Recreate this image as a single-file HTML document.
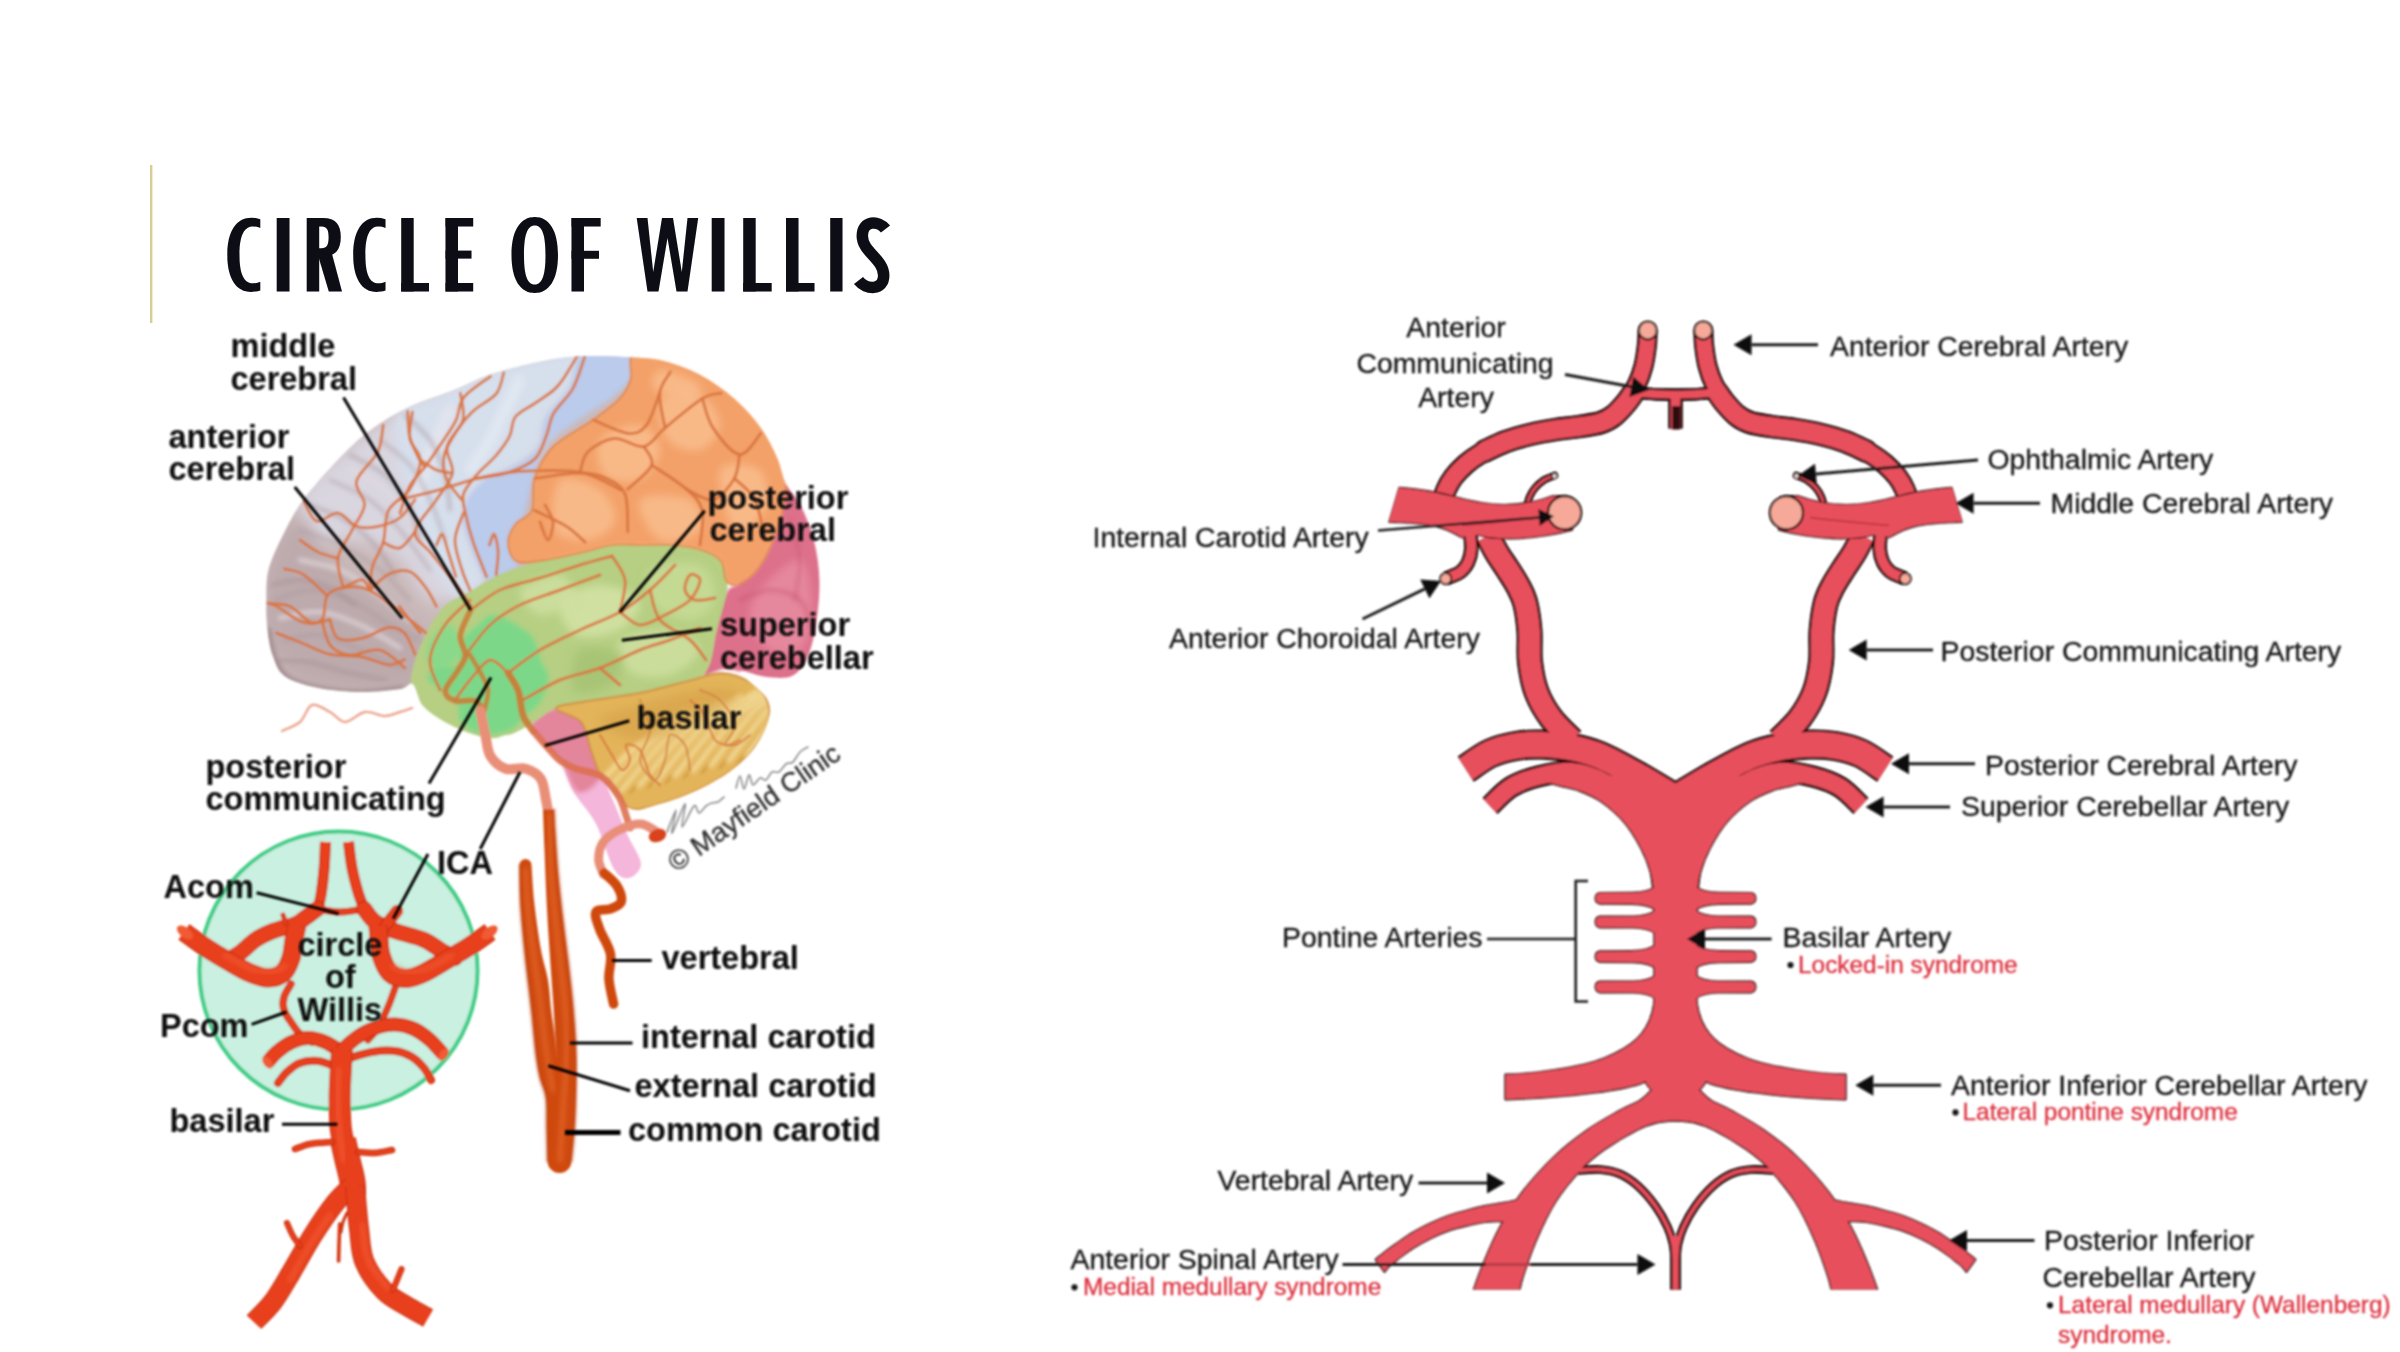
<!DOCTYPE html>
<html><head><meta charset="utf-8"><title>Circle of Willis</title>
<style>
html,body{margin:0;padding:0;background:#fff;}
body{width:2400px;height:1352px;overflow:hidden;font-family:"Liberation Sans",sans-serif;}
svg{display:block;position:absolute;left:0;top:0;}
text{font-family:"Liberation Sans",sans-serif;}
.lb{font-weight:bold;font-size:32.5px;fill:#0a0a0a;}
.rb{font-size:28.4px;fill:#161616;stroke:#161616;stroke-width:0.3px;}
.rr{font-size:24.4px;fill:#dd3340;stroke:#dd3340;stroke-width:0.35px;}
</style></head><body>
<svg width="2400" height="1352" viewBox="0 0 2400 1352">
<defs><filter id="b09" x="-2%" y="-2%" width="104%" height="104%"><feGaussianBlur stdDeviation="0.9"/></filter><filter id="b07" x="-2%" y="-5%" width="104%" height="110%"><feGaussianBlur stdDeviation="0.75"/></filter></defs>
<g id="title" filter="url(#b07)">
<rect x="150" y="165" width="2.4" height="158" fill="#d8cd92"/>
<path fill="#0b0b14" fill-rule="evenodd" d="M260.3,219.2 C240.5,213.5 227.3,226 227.3,255 C227.3,284 240.5,296.5 260.3,290.5 L260.3,281.8 C247.8,286.5 239.5,281 239.5,255 C239.5,229 247.8,223.5 260.3,228 Z"/>
<path fill="#0b0b14" fill-rule="evenodd" d="M276.7,218.0 H289.5 V291.5 H276.7 Z"/>
<path fill="#0b0b14" fill-rule="evenodd" d="M306.7,218.0 H319.2 V291.5 H306.7 Z"/>
<path fill="#0b0b14" fill-rule="evenodd" d="M318,218 L323,218 C336,218 340.8,225 340.8,237 C340.8,250 335,256.5 323,256.5 L318,256.5 Z M318,226.5 L321.5,226.5 C327,226.5 328.6,230 328.6,237 C328.6,245 327,248.2 321.5,248.2 L318,248.2 Z"/>
<path fill="#0b0b14" fill-rule="evenodd" d="M320,252 L331.5,252 L342,291.5 L328.8,291.5 L318.5,257 Z"/>
<path fill="#0b0b14" fill-rule="evenodd" d="M385.5,219.2 C366.1,213.5 353.2,226 353.2,255 C353.2,284 366.1,296.5 385.5,290.5 L385.5,281.8 C373.2,286.5 365.4,281 365.4,255 C365.4,229 373.2,223.5 385.5,228 Z"/>
<path fill="#0b0b14" fill-rule="evenodd" d="M401.2,218.0 H413.7 V291.5 H401.2 Z"/>
<path fill="#0b0b14" fill-rule="evenodd" d="M401.2,283.0 H429.0 V291.5 H401.2 Z"/>
<path fill="#0b0b14" fill-rule="evenodd" d="M445.5,218.0 H458.0 V291.5 H445.5 Z"/>
<path fill="#0b0b14" fill-rule="evenodd" d="M445.5,218.0 H473.2 V226.5 H445.5 Z"/>
<path fill="#0b0b14" fill-rule="evenodd" d="M445.5,250.6 H471.5 V258.6 H445.5 Z"/>
<path fill="#0b0b14" fill-rule="evenodd" d="M445.5,283.0 H473.2 V291.5 H445.5 Z"/>
<path fill="#0b0b14" fill-rule="evenodd" d="M534.8,217 C549,217 558,230 558,255 C558,280 549,293 534.8,293 C520.5,293 511.5,280 511.5,255 C511.5,230 520.5,217 534.8,217 Z M534.8,225.5 C527,225.5 524,236 524,255 C524,274 527,284.5 534.8,284.5 C542.5,284.5 545.5,274 545.5,255 C545.5,236 542.5,225.5 534.8,225.5 Z"/>
<path fill="#0b0b14" fill-rule="evenodd" d="M571.5,218.0 H584.0 V291.5 H571.5 Z"/>
<path fill="#0b0b14" fill-rule="evenodd" d="M571.5,218.0 H600.7 V226.5 H571.5 Z"/>
<path fill="#0b0b14" fill-rule="evenodd" d="M571.5,250.8 H599.0 V258.8 H571.5 Z"/>
<path fill="#0b0b14" fill-rule="evenodd" d="M636.7,218 L647.5,218 L653.2,272 L662,218 L673,218 L681.8,272 L687.5,218 L698.2,218 L687.5,291.5 L676.5,291.5 L667.5,238 L658.5,291.5 L647.5,291.5 Z"/>
<path fill="#0b0b14" fill-rule="evenodd" d="M711.7,218.0 H724.5 V291.5 H711.7 Z"/>
<path fill="#0b0b14" fill-rule="evenodd" d="M743.2,218.0 H755.7 V291.5 H743.2 Z"/>
<path fill="#0b0b14" fill-rule="evenodd" d="M743.2,283.0 H771.7 V291.5 H743.2 Z"/>
<path fill="#0b0b14" fill-rule="evenodd" d="M786.0,218.0 H798.5 V291.5 H786.0 Z"/>
<path fill="#0b0b14" fill-rule="evenodd" d="M786.0,283.0 H814.5 V291.5 H786.0 Z"/>
<path fill="#0b0b14" fill-rule="evenodd" d="M830.2,218.0 H842.5 V291.5 H830.2 Z"/>
<path fill="none" stroke="#0b0b14" stroke-width="11.5" d="M885.5,229 C879,220.5 862.3,219.5 862.3,236 C862.3,252 883.7,259 883.7,275.5 C883.7,291 866,290 858.5,280.5"/>
</g>
<g id="left">
<defs>
<filter id="b1" x="-5%" y="-5%" width="110%" height="110%"><feGaussianBlur stdDeviation="1.1"/></filter>
<filter id="b05" x="-5%" y="-20%" width="110%" height="140%"><feGaussianBlur stdDeviation="0.7"/></filter>
<filter id="b2" x="-10%" y="-10%" width="120%" height="120%"><feGaussianBlur stdDeviation="2.2"/></filter>
<filter id="b4" x="-20%" y="-20%" width="140%" height="140%"><feGaussianBlur stdDeviation="4"/></filter>
<filter id="b8" x="-30%" y="-30%" width="160%" height="160%"><feGaussianBlur stdDeviation="8"/></filter>
<radialGradient id="gArt" cx="0.5" cy="0.5" r="0.5"><stop offset="0" stop-color="#f0522c"/><stop offset="1" stop-color="#e03a18"/></radialGradient>
</defs>
<clipPath id="brainClip"><path d="M266.3,601.0 C266.5,591.3 265.6,580.5 268.6,569.0 C271.7,557.5 278.8,543.2 284.6,531.7 C290.4,520.2 294.4,511.8 303.3,499.8 C312.2,487.8 326.8,471.4 337.9,459.8 C349.0,448.2 357.8,439.4 369.8,430.5 C381.8,421.6 396.0,413.2 409.8,406.6 C423.6,400.0 439.1,395.9 452.4,390.6 C465.7,385.3 476.8,379.0 489.7,374.6 C502.6,370.2 515.4,367.0 529.6,364.0 C543.8,361.0 557.8,357.6 575.0,356.5 C592.2,355.4 618.1,356.7 633.1,357.5 C648.1,358.3 654.0,358.4 665.1,361.3 C676.2,364.2 688.2,368.4 699.7,374.6 C711.2,380.8 724.1,389.7 734.3,398.6 C744.5,407.5 753.8,418.1 760.9,427.9 C768.0,437.6 772.7,447.8 776.9,457.1 C781.1,466.5 782.0,476.0 786.0,484.0 C790.0,492.0 796.2,495.8 800.9,505.1 C805.6,514.4 811.1,527.3 814.2,539.7 C817.3,552.1 819.1,566.3 819.5,579.6 C819.9,592.9 818.6,607.2 816.8,619.6 C815.0,632.0 812.8,644.9 808.8,654.2 C804.8,663.5 800.0,671.7 792.9,675.5 C785.8,679.3 775.0,677.6 766.2,677.0 C757.4,676.4 739.7,668.2 740.0,672.0 C740.3,675.8 763.5,691.4 768.0,700.0 C772.5,708.6 769.8,714.9 767.1,723.4 C764.4,731.9 758.7,742.7 752.0,751.1 C745.3,759.5 737.3,766.6 726.8,773.7 C716.3,780.8 701.7,788.3 689.1,793.8 C676.5,799.2 661.0,803.9 651.4,806.4 C641.8,808.9 639.9,811.6 631.3,808.9 C622.7,806.2 611.9,800.6 600.0,790.0 C588.1,779.4 574.5,754.2 560.0,745.0 C545.5,735.8 524.3,736.1 513.1,735.0 C501.9,733.9 500.1,738.8 493.0,738.5 C485.9,738.2 478.8,736.4 470.4,733.5 C462.0,730.6 450.7,725.5 442.7,720.9 C434.7,716.3 427.6,711.9 422.6,705.8 C417.7,699.6 416.8,686.8 413.0,684.0 C409.2,681.2 408.7,687.7 400.0,689.0 C391.3,690.3 374.4,692.2 360.8,692.0 C347.2,691.8 331.2,690.6 318.6,688.0 C306.0,685.4 292.7,682.0 285.0,676.5 C277.3,671.0 275.5,663.2 272.5,655.0 C269.5,646.8 268.2,636.0 267.2,627.0 C266.2,618.0 266.1,610.7 266.3,601.0Z"/></clipPath>
<g filter="url(#b1)">
<path d="M533.0,722.0 C535.7,716.5 546.5,709.2 556.0,708.0 C565.5,706.8 582.7,708.0 590.0,715.0 C597.3,722.0 597.5,739.2 600.0,750.0 C602.5,760.8 602.5,770.8 605.0,780.0 C607.5,789.2 611.2,795.7 615.0,805.0 C618.8,814.3 623.7,826.2 628.0,836.0 C632.3,845.8 640.8,857.0 641.0,864.0 C641.2,871.0 633.5,877.2 629.0,878.0 C624.5,878.8 619.5,878.0 614.0,869.0 C608.5,860.0 602.8,837.0 596.0,824.0 C589.2,811.0 579.0,801.5 573.0,791.0 C567.0,780.5 565.5,769.3 560.0,761.0 C554.5,752.7 544.5,747.5 540.0,741.0 C535.5,734.5 530.3,727.5 533.0,722.0Z" fill="#f4b6da" />
<path d="M533.0,722.0 C535.5,716.5 546.5,709.2 556.0,708.0 C565.5,706.8 583.0,708.0 590.0,715.0 C597.0,722.0 596.3,739.5 598.0,750.0 C599.7,760.5 603.3,771.0 600.0,778.0 C596.7,785.0 584.5,794.8 578.0,792.0 C571.5,789.2 567.1,769.6 560.9,761.1 C554.7,752.6 545.4,747.5 540.8,741.0 C536.1,734.5 530.5,727.5 533.0,722.0Z" fill="#e3859b" filter="url(#b2)"/>
<g clip-path="url(#brainClip)">
<path d="M266.3,601.0 C266.5,591.3 265.6,580.5 268.6,569.0 C271.7,557.5 278.8,543.2 284.6,531.7 C290.4,520.2 294.4,511.8 303.3,499.8 C312.2,487.8 326.8,471.4 337.9,459.8 C349.0,448.2 357.8,439.4 369.8,430.5 C381.8,421.6 396.0,413.2 409.8,406.6 C423.6,400.0 439.1,395.9 452.4,390.6 C465.7,385.3 476.8,379.0 489.7,374.6 C502.6,370.2 515.4,367.0 529.6,364.0 C543.8,361.0 555.8,357.8 575.0,356.5 C594.2,355.2 633.3,348.8 645.0,356.0 C656.7,363.2 657.5,384.3 645.0,400.0 C632.5,415.7 586.7,423.3 570.0,450.0 C553.3,476.7 555.8,537.5 545.0,560.0 C534.2,582.5 517.2,577.5 505.0,585.0 C492.8,592.5 482.0,598.3 472.0,605.0 C462.0,611.7 452.3,616.7 445.0,625.0 C437.7,633.3 432.2,643.8 428.0,655.0 C423.8,666.2 424.7,686.3 420.0,692.0 C415.3,697.7 409.9,689.0 400.0,689.0 C390.1,689.0 374.4,692.2 360.8,692.0 C347.2,691.8 331.2,690.6 318.6,688.0 C306.0,685.4 292.7,682.0 285.0,676.5 C277.3,671.0 275.5,663.2 272.5,655.0 C269.5,646.8 268.2,636.0 267.2,627.0 C266.2,618.0 266.1,610.7 266.3,601.0Z" fill="#cab9ba" />
<path d="M300.0,500.0 C303.3,485.8 321.7,470.8 340.0,455.0 C358.3,439.2 385.0,418.8 410.0,405.0 C435.0,391.2 465.0,380.3 490.0,372.0 C515.0,363.7 541.7,357.0 560.0,355.0 C578.3,353.0 600.0,349.2 600.0,360.0 C600.0,370.8 573.3,401.7 560.0,420.0 C546.7,438.3 533.3,453.3 520.0,470.0 C506.7,486.7 488.3,500.0 480.0,520.0 C471.7,540.0 478.3,576.7 470.0,590.0 C461.7,603.3 441.7,605.0 430.0,600.0 C418.3,595.0 411.7,570.0 400.0,560.0 C388.3,550.0 373.3,543.3 360.0,540.0 C346.7,536.7 330.0,546.7 320.0,540.0 C310.0,533.3 296.7,514.2 300.0,500.0Z" fill="#d9d6e0" filter="url(#b8)"/>
<path d="M262.0,600.0 C263.2,584.2 268.7,558.3 275.0,545.0 C281.3,531.7 290.8,517.5 300.0,520.0 C309.2,522.5 316.7,546.7 330.0,560.0 C343.3,573.3 363.3,586.7 380.0,600.0 C396.7,613.3 423.3,625.0 430.0,640.0 C436.7,655.0 435.0,681.7 420.0,690.0 C405.0,698.3 361.7,692.5 340.0,690.0 C318.3,687.5 302.0,683.3 290.0,675.0 C278.0,666.7 272.7,652.5 268.0,640.0 C263.3,627.5 260.8,615.8 262.0,600.0Z" fill="#b9a6a8" filter="url(#b8)" opacity="0.75"/>
<path d="M400.0,412.0 C409.0,401.2 437.1,396.7 452.0,390.0 C466.9,383.3 476.8,376.8 489.7,372.0 C502.6,367.2 514.1,364.2 529.6,361.0 C545.1,357.8 576.4,348.5 583.0,353.0 C589.6,357.5 575.3,377.5 569.2,388.1 C563.1,398.8 551.3,407.0 546.2,416.9 C541.1,426.8 543.6,439.7 538.5,447.7 C533.4,455.7 524.1,459.9 515.4,465.0 C506.7,470.1 494.5,472.7 486.5,478.5 C478.5,484.3 471.1,492.2 467.3,499.6 C463.5,507.0 462.5,514.1 463.5,522.7 C464.5,531.4 469.3,542.0 473.1,551.5 C476.9,561.0 488.7,572.2 486.5,580.0 C484.3,587.8 467.8,598.8 460.0,598.0 C452.2,597.2 445.8,584.7 440.0,575.0 C434.2,565.3 430.0,552.5 425.0,540.0 C420.0,527.5 414.5,514.2 410.0,500.0 C405.5,485.8 399.7,469.7 398.0,455.0 C396.3,440.3 391.0,422.8 400.0,412.0Z" fill="#d6dfec" filter="url(#b4)"/>
<path d="M582.7,353.0 C593.4,347.3 625.5,349.8 633.5,354.0 C641.5,358.2 634.5,371.2 630.8,378.5 C627.1,385.8 619.5,391.3 611.5,397.7 C603.5,404.1 591.4,411.1 582.7,416.9 C574.1,422.7 566.0,427.2 559.6,432.3 C553.2,437.4 548.4,441.3 544.2,447.7 C540.0,454.1 537.5,461.5 534.6,470.8 C531.7,480.1 528.8,495.8 526.9,503.5 C525.0,511.2 525.7,512.4 523.1,516.9 C520.5,521.4 513.8,525.3 511.5,530.4 C509.2,535.5 508.3,542.3 509.6,547.7 C510.9,553.1 520.8,558.3 519.2,563.0 C517.6,567.7 505.4,573.2 500.0,576.0 C494.6,578.8 491.0,584.1 486.5,580.0 C482.0,575.9 476.9,561.0 473.1,551.5 C469.3,542.0 464.5,531.4 463.5,522.7 C462.5,514.1 463.5,507.0 467.3,499.6 C471.1,492.2 478.5,484.3 486.5,478.5 C494.5,472.7 506.7,470.1 515.4,465.0 C524.1,459.9 533.4,455.7 538.5,447.7 C543.6,439.7 541.1,426.8 546.2,416.9 C551.3,407.0 563.1,398.8 569.2,388.1 C575.3,377.5 572.0,358.7 582.7,353.0Z" fill="#bacbec" filter="url(#b2)"/>
<path d="M520.0,380.0 C517.5,385.0 510.0,400.0 505.0,410.0 C500.0,420.0 495.8,430.0 490.0,440.0 C484.2,450.0 473.3,465.0 470.0,470.0" fill="none" stroke="#e6ecf5" stroke-width="10.0" stroke-linecap="round" stroke-linejoin="round" filter="url(#b4)" opacity="0.8"/>
<path d="M450.0,410.0 C447.0,416.7 437.3,435.8 432.0,450.0 C426.7,464.2 420.3,487.5 418.0,495.0" fill="none" stroke="#e6e6ee" stroke-width="12.0" stroke-linecap="round" stroke-linejoin="round" filter="url(#b4)" opacity="0.8"/>
<path d="M633.1,354.0 C638.9,350.4 654.0,355.0 665.1,358.0 C676.2,361.0 688.2,365.7 699.7,372.0 C711.2,378.3 723.9,386.8 734.3,396.0 C744.7,405.2 754.5,416.8 762.0,427.0 C769.5,437.2 774.8,447.6 779.0,457.1 C783.2,466.6 786.5,474.5 787.0,483.8 C787.5,493.1 784.8,502.5 782.0,513.1 C779.2,523.8 774.4,538.0 770.0,547.7 C765.6,557.5 760.7,565.6 755.6,571.6 C750.5,577.6 744.5,582.4 739.6,584.0 C734.7,585.6 729.4,584.8 726.3,581.0 C723.2,577.2 725.0,566.1 721.0,561.0 C717.0,555.9 710.3,553.0 702.3,550.3 C694.3,547.6 683.6,545.9 673.0,545.0 C662.4,544.1 648.6,545.0 638.4,545.0 C628.2,545.0 621.5,543.7 611.8,545.0 C602.0,546.3 591.9,550.3 579.9,553.0 C567.9,555.7 550.5,559.7 539.9,561.0 C529.2,562.3 521.3,564.1 516.0,561.0 C510.7,557.9 508.0,548.5 508.0,542.3 C508.0,536.1 512.0,529.0 516.0,523.7 C520.0,518.4 528.8,518.0 531.9,510.4 C535.0,502.8 531.0,489.0 534.6,478.4 C538.2,467.8 543.4,456.2 553.2,446.5 C563.0,436.8 582.1,427.9 593.2,419.9 C604.3,411.9 613.6,405.3 619.8,398.6 C626.0,391.9 628.3,387.3 630.5,379.9 C632.7,372.5 627.3,357.6 633.1,354.0Z" fill="#f3a169" filter="url(#b1)"/>
<path d="M600.0,440.0 C605.8,431.7 630.0,423.3 640.0,425.0 C650.0,426.7 660.0,440.8 660.0,450.0 C660.0,459.2 649.2,475.8 640.0,480.0 C630.8,484.2 611.7,481.7 605.0,475.0 C598.3,468.3 594.2,448.3 600.0,440.0Z" fill="#f9be8e" filter="url(#b4)" opacity="0.85"/>
<path d="M560.0,480.0 C567.5,473.3 590.8,483.3 600.0,490.0 C609.2,496.7 616.7,511.7 615.0,520.0 C613.3,528.3 600.0,538.3 590.0,540.0 C580.0,541.7 560.0,540.0 555.0,530.0 C550.0,520.0 552.5,486.7 560.0,480.0Z" fill="#f9be8e" filter="url(#b4)" opacity="0.85"/>
<path d="M660.0,400.0 C665.3,392.5 690.0,390.8 700.0,395.0 C710.0,399.2 720.0,415.8 720.0,425.0 C720.0,434.2 708.7,447.5 700.0,450.0 C691.3,452.5 674.7,448.3 668.0,440.0 C661.3,431.7 654.7,407.5 660.0,400.0Z" fill="#f9be8e" filter="url(#b4)" opacity="0.85"/>
<path d="M640.0,500.0 C645.0,493.3 680.0,495.0 690.0,500.0 C700.0,505.0 705.0,523.3 700.0,530.0 C695.0,536.7 670.0,545.0 660.0,540.0 C650.0,535.0 635.0,506.7 640.0,500.0Z" fill="#f9be8e" filter="url(#b4)" opacity="0.85"/>
<path d="M720.0,470.0 C724.2,460.0 752.5,463.3 760.0,470.0 C767.5,476.7 769.2,500.0 765.0,510.0 C760.8,520.0 742.5,536.7 735.0,530.0 C727.5,523.3 715.8,480.0 720.0,470.0Z" fill="#f9be8e" filter="url(#b4)" opacity="0.85"/>
<path d="M660.0,370.0 C667.5,369.2 695.0,380.0 700.0,385.0 C705.0,390.0 697.5,399.2 690.0,400.0 C682.5,400.8 660.0,395.0 655.0,390.0 C650.0,385.0 652.5,370.8 660.0,370.0Z" fill="#f9be8e" filter="url(#b4)" opacity="0.85"/>
<path d="M787.0,483.8 C790.1,482.5 796.4,495.8 800.9,505.1 C805.4,514.4 810.9,527.3 814.2,539.7 C817.5,552.1 819.9,566.3 820.5,579.6 C821.1,592.9 819.6,607.2 817.8,619.6 C816.0,632.0 813.8,644.6 809.8,654.2 C805.8,663.8 801.3,673.0 794.0,677.0 C786.7,681.0 777.5,679.3 766.2,678.0 C754.9,676.7 736.9,669.7 726.3,669.0 C715.6,668.3 704.5,680.0 702.3,674.0 C700.1,668.0 709.0,646.4 713.0,632.9 C717.0,619.4 721.9,601.0 726.3,592.9 C730.7,584.8 734.7,587.5 739.6,584.0 C744.5,580.5 750.5,577.6 755.6,571.6 C760.7,565.6 765.6,557.5 770.0,547.7 C774.4,538.0 779.2,523.8 782.0,513.1 C784.8,502.5 783.9,485.1 787.0,483.8Z" fill="#dd6f8b" filter="url(#b1)"/>
<path d="M760.0,590.0 C768.3,580.0 791.3,556.7 800.0,560.0 C808.7,563.3 812.0,595.0 812.0,610.0 C812.0,625.0 807.0,643.3 800.0,650.0 C793.0,656.7 778.3,655.0 770.0,650.0 C761.7,645.0 751.7,630.0 750.0,620.0 C748.3,610.0 751.7,600.0 760.0,590.0Z" fill="#e88ea2" filter="url(#b4)" opacity="0.8"/>
<path d="M740.0,600.0 C745.0,598.3 760.0,590.0 770.0,590.0 C780.0,590.0 793.0,593.3 800.0,600.0 C807.0,606.7 810.0,625.0 812.0,630.0" fill="none" stroke="#c85672" stroke-width="2.5" stroke-linecap="round" stroke-linejoin="round" filter="url(#b2)" opacity="0.7"/>
<path d="M790.0,520.0 C791.7,526.7 799.2,546.7 800.0,560.0 C800.8,573.3 795.8,593.3 795.0,600.0" fill="none" stroke="#c85672" stroke-width="2.5" stroke-linecap="round" stroke-linejoin="round" filter="url(#b2)" opacity="0.6"/>
<path d="M411.0,686.0 C409.8,678.5 412.3,669.9 415.1,660.6 C417.9,651.3 422.7,639.6 427.7,630.4 C432.7,621.2 438.4,611.7 445.3,605.3 C452.2,598.9 459.8,597.2 468.9,592.0 C478.0,586.8 488.2,579.5 500.0,574.3 C511.8,569.1 526.6,564.5 539.9,561.0 C553.2,557.5 567.9,555.7 579.9,553.0 C591.9,550.3 602.0,546.3 611.8,545.0 C621.5,543.7 628.2,545.0 638.4,545.0 C648.6,545.0 662.4,544.1 673.0,545.0 C683.6,545.9 694.3,547.6 702.3,550.3 C710.3,553.0 716.9,555.9 721.0,561.0 C725.1,566.1 726.1,575.3 727.0,581.0 C727.9,586.7 728.0,586.8 726.3,595.0 C724.6,603.2 719.6,618.6 716.8,630.4 C713.9,642.2 713.0,657.3 709.2,665.6 C705.4,673.9 705.7,675.4 694.0,680.0 C682.3,684.6 656.4,689.7 638.8,693.2 C621.2,696.7 602.4,698.3 588.6,700.8 C574.8,703.3 564.7,704.9 555.9,708.3 C547.1,711.6 542.9,716.7 535.8,720.9 C528.7,725.1 520.2,730.6 513.1,733.5 C506.0,736.4 500.1,738.5 493.0,738.5 C485.9,738.5 478.8,736.4 470.4,733.5 C462.0,730.6 450.7,725.5 442.7,720.9 C434.7,716.3 427.9,711.6 422.6,705.8 C417.3,700.0 412.2,693.5 411.0,686.0Z" fill="#b6cf83" />
<path d="M560.0,600.0 C564.2,591.7 586.7,585.0 600.0,585.0 C613.3,585.0 636.7,592.5 640.0,600.0 C643.3,607.5 630.8,624.2 620.0,630.0 C609.2,635.8 585.0,640.0 575.0,635.0 C565.0,630.0 555.8,608.3 560.0,600.0Z" fill="#d4e3a6" filter="url(#b4)" opacity="0.85"/>
<path d="M620.0,640.0 C626.7,633.0 656.7,628.3 670.0,630.0 C683.3,631.7 700.0,642.5 700.0,650.0 C700.0,657.5 681.7,671.3 670.0,675.0 C658.3,678.7 638.3,677.8 630.0,672.0 C621.7,666.2 613.3,647.0 620.0,640.0Z" fill="#cfe0a0" filter="url(#b4)" opacity="0.85"/>
<path d="M650.0,570.0 C657.5,563.3 689.2,560.0 700.0,565.0 C710.8,570.0 716.7,590.8 715.0,600.0 C713.3,609.2 700.0,619.2 690.0,620.0 C680.0,620.8 661.7,613.3 655.0,605.0 C648.3,596.7 642.5,576.7 650.0,570.0Z" fill="#c7db96" filter="url(#b4)" opacity="0.85"/>
<path d="M520.0,590.0 C523.3,583.3 550.8,573.3 560.0,575.0 C569.2,576.7 578.3,593.3 575.0,600.0 C571.7,606.7 549.2,616.7 540.0,615.0 C530.8,613.3 516.7,596.7 520.0,590.0Z" fill="#cfe0a0" filter="url(#b4)" opacity="0.85"/>
<path d="M580.0,650.0 C587.5,644.2 615.0,649.2 620.0,655.0 C625.0,660.8 617.5,679.2 610.0,685.0 C602.5,690.8 580.0,695.8 575.0,690.0 C570.0,684.2 572.5,655.8 580.0,650.0Z" fill="#a6c273" filter="url(#b4)" opacity="0.85"/>
<path d="M460.3,643.0 C463.7,636.2 472.1,629.6 478.0,625.0 C483.9,620.4 486.7,613.6 495.5,615.3 C504.3,617.0 523.2,627.8 530.7,635.4 C538.2,643.0 537.9,653.5 540.8,660.6 C543.7,667.7 548.3,671.5 548.3,678.2 C548.3,684.9 544.6,694.5 540.8,700.8 C537.0,707.1 531.2,710.9 525.7,715.9 C520.2,720.9 515.6,728.1 508.1,731.0 C500.6,733.9 488.5,735.2 480.5,733.5 C472.5,731.8 464.1,726.4 460.3,720.9 C456.5,715.4 460.7,705.8 457.8,700.8 C454.9,695.8 447.7,694.5 442.7,690.7 C437.7,686.9 428.5,682.4 427.7,678.2 C426.9,674.0 432.7,667.7 437.7,665.6 C442.7,663.5 454.0,669.4 457.8,665.6 C461.6,661.8 456.9,649.8 460.3,643.0Z" fill="#7bd888" filter="url(#b2)"/>
<path d="M430.0,640.0 C433.7,633.8 444.7,623.3 450.0,625.0 C455.3,626.7 462.8,642.8 462.0,650.0 C461.2,657.2 450.7,666.0 445.0,668.0 C439.3,670.0 430.5,666.7 428.0,662.0 C425.5,657.3 426.3,646.2 430.0,640.0Z" fill="#86da8c" filter="url(#b2)" opacity="0.9"/>
<path d="M555.9,708.3 C557.2,704.8 574.8,703.3 588.6,700.8 C602.4,698.3 622.0,696.6 638.8,693.2 C655.5,689.9 675.3,684.1 689.1,680.7 C702.9,677.4 711.3,672.7 721.8,673.1 C732.3,673.5 744.5,678.6 752.0,683.2 C759.5,687.8 764.4,694.1 767.1,700.8 C769.8,707.5 770.5,715.0 768.0,723.4 C765.5,731.8 758.9,742.7 752.0,751.1 C745.1,759.5 737.3,766.6 726.8,773.7 C716.3,780.8 701.7,788.3 689.1,793.8 C676.5,799.2 661.0,803.9 651.4,806.4 C641.8,808.9 636.8,810.6 631.3,808.9 C625.8,807.2 623.7,801.8 618.7,796.3 C613.7,790.8 605.7,783.7 601.1,776.2 C596.5,768.7 594.5,760.1 591.1,751.1 C587.8,742.1 586.9,729.1 581.0,722.0 C575.1,714.9 554.6,711.8 555.9,708.3Z" fill="#e3b45a" />
<clipPath id="cbClip"><path d="M555.9,708.3 C557.2,704.8 574.8,703.3 588.6,700.8 C602.4,698.3 622.0,696.6 638.8,693.2 C655.5,689.9 675.3,684.1 689.1,680.7 C702.9,677.4 711.3,672.7 721.8,673.1 C732.3,673.5 744.5,678.6 752.0,683.2 C759.5,687.8 764.4,694.1 767.1,700.8 C769.8,707.5 770.5,715.0 768.0,723.4 C765.5,731.8 758.9,742.7 752.0,751.1 C745.1,759.5 737.3,766.6 726.8,773.7 C716.3,780.8 701.7,788.3 689.1,793.8 C676.5,799.2 661.0,803.9 651.4,806.4 C641.8,808.9 636.8,810.6 631.3,808.9 C625.8,807.2 623.7,801.8 618.7,796.3 C613.7,790.8 605.7,783.7 601.1,776.2 C596.5,768.7 594.5,760.1 591.1,751.1 C587.8,742.1 586.9,729.1 581.0,722.0 C575.1,714.9 554.6,711.8 555.9,708.3Z"/></clipPath><g clip-path="url(#cbClip)">
<path d="M585.0,800.0 C592.5,792.0 613.3,766.7 630.0,752.0 C646.7,737.3 675.8,718.7 685.0,712.0" fill="none" stroke="#f3da96" stroke-width="6.0" stroke-linecap="round" stroke-linejoin="round" filter="url(#b2)" opacity="0.95"/>
<path d="M594.0,803.0 C601.5,795.0 622.3,769.7 639.0,755.0 C655.7,740.3 684.8,721.7 694.0,715.0" fill="none" stroke="#c48a34" stroke-width="1.8" stroke-linecap="round" stroke-linejoin="round" filter="url(#b1)" opacity="0.7"/>
<path d="M603.0,795.0 C610.5,786.8 631.3,760.7 648.0,746.0 C664.7,731.3 693.8,713.5 703.0,707.0" fill="none" stroke="#f3da96" stroke-width="6.0" stroke-linecap="round" stroke-linejoin="round" filter="url(#b2)" opacity="0.95"/>
<path d="M612.0,798.0 C619.5,789.8 640.3,763.7 657.0,749.0 C673.7,734.3 702.8,716.5 712.0,710.0" fill="none" stroke="#c48a34" stroke-width="1.8" stroke-linecap="round" stroke-linejoin="round" filter="url(#b1)" opacity="0.7"/>
<path d="M621.0,790.0 C628.5,781.7 649.3,754.7 666.0,740.0 C682.7,725.3 711.8,708.3 721.0,702.0" fill="none" stroke="#f3da96" stroke-width="6.0" stroke-linecap="round" stroke-linejoin="round" filter="url(#b2)" opacity="0.95"/>
<path d="M630.0,793.0 C637.5,784.7 658.3,757.7 675.0,743.0 C691.7,728.3 720.8,711.3 730.0,705.0" fill="none" stroke="#c48a34" stroke-width="1.8" stroke-linecap="round" stroke-linejoin="round" filter="url(#b1)" opacity="0.7"/>
<path d="M639.0,785.0 C646.5,776.5 667.3,748.7 684.0,734.0 C700.7,719.3 729.8,703.2 739.0,697.0" fill="none" stroke="#f3da96" stroke-width="6.0" stroke-linecap="round" stroke-linejoin="round" filter="url(#b2)" opacity="0.95"/>
<path d="M648.0,788.0 C655.5,779.5 676.3,751.7 693.0,737.0 C709.7,722.3 738.8,706.2 748.0,700.0" fill="none" stroke="#c48a34" stroke-width="1.8" stroke-linecap="round" stroke-linejoin="round" filter="url(#b1)" opacity="0.7"/>
<path d="M657.0,780.0 C664.5,771.3 685.3,742.7 702.0,728.0 C718.7,713.3 747.8,698.0 757.0,692.0" fill="none" stroke="#f3da96" stroke-width="6.0" stroke-linecap="round" stroke-linejoin="round" filter="url(#b2)" opacity="0.95"/>
<path d="M666.0,783.0 C673.5,774.3 694.3,745.7 711.0,731.0 C727.7,716.3 756.8,701.0 766.0,695.0" fill="none" stroke="#c48a34" stroke-width="1.8" stroke-linecap="round" stroke-linejoin="round" filter="url(#b1)" opacity="0.7"/>
<path d="M675.0,775.0 C682.5,766.2 703.3,736.7 720.0,722.0 C736.7,707.3 765.8,692.8 775.0,687.0" fill="none" stroke="#f3da96" stroke-width="6.0" stroke-linecap="round" stroke-linejoin="round" filter="url(#b2)" opacity="0.95"/>
<path d="M684.0,778.0 C691.5,769.2 712.3,739.7 729.0,725.0 C745.7,710.3 774.8,695.8 784.0,690.0" fill="none" stroke="#c48a34" stroke-width="1.8" stroke-linecap="round" stroke-linejoin="round" filter="url(#b1)" opacity="0.7"/>
<path d="M693.0,770.0 C700.5,761.0 721.3,730.7 738.0,716.0 C754.7,701.3 783.8,687.7 793.0,682.0" fill="none" stroke="#f3da96" stroke-width="6.0" stroke-linecap="round" stroke-linejoin="round" filter="url(#b2)" opacity="0.95"/>
<path d="M702.0,773.0 C709.5,764.0 730.3,733.7 747.0,719.0 C763.7,704.3 792.8,690.7 802.0,685.0" fill="none" stroke="#c48a34" stroke-width="1.8" stroke-linecap="round" stroke-linejoin="round" filter="url(#b1)" opacity="0.7"/>
<path d="M711.0,765.0 C718.5,755.8 739.3,724.7 756.0,710.0 C772.7,695.3 801.8,682.5 811.0,677.0" fill="none" stroke="#f3da96" stroke-width="6.0" stroke-linecap="round" stroke-linejoin="round" filter="url(#b2)" opacity="0.95"/>
<path d="M720.0,768.0 C727.5,758.8 748.3,727.7 765.0,713.0 C781.7,698.3 810.8,685.5 820.0,680.0" fill="none" stroke="#c48a34" stroke-width="1.8" stroke-linecap="round" stroke-linejoin="round" filter="url(#b1)" opacity="0.7"/>
<path d="M729.0,760.0 C736.5,750.7 757.3,718.7 774.0,704.0 C790.7,689.3 819.8,677.3 829.0,672.0" fill="none" stroke="#f3da96" stroke-width="6.0" stroke-linecap="round" stroke-linejoin="round" filter="url(#b2)" opacity="0.95"/>
<path d="M738.0,763.0 C745.5,753.7 766.3,721.7 783.0,707.0 C799.7,692.3 828.8,680.3 838.0,675.0" fill="none" stroke="#c48a34" stroke-width="1.8" stroke-linecap="round" stroke-linejoin="round" filter="url(#b1)" opacity="0.7"/>
<path d="M747.0,755.0 C754.5,745.5 775.3,712.7 792.0,698.0 C808.7,683.3 837.8,672.2 847.0,667.0" fill="none" stroke="#f3da96" stroke-width="6.0" stroke-linecap="round" stroke-linejoin="round" filter="url(#b2)" opacity="0.95"/>
<path d="M756.0,758.0 C763.5,748.5 784.3,715.7 801.0,701.0 C817.7,686.3 846.8,675.2 856.0,670.0" fill="none" stroke="#c48a34" stroke-width="1.8" stroke-linecap="round" stroke-linejoin="round" filter="url(#b1)" opacity="0.7"/>
<path d="M600.0,720.0 C600.0,714.2 623.3,710.0 640.0,705.0 C656.7,700.0 683.3,691.7 700.0,690.0 C716.7,688.3 740.0,690.0 740.0,695.0 C740.0,700.0 716.7,712.5 700.0,720.0 C683.3,727.5 656.7,740.0 640.0,740.0 C623.3,740.0 600.0,725.8 600.0,720.0Z" fill="#d6a048" filter="url(#b4)" opacity="0.6"/>
</g>
<path d="M555.9,708.3 C557.2,704.8 574.8,703.3 588.6,700.8 C602.4,698.3 622.0,696.6 638.8,693.2 C655.5,689.9 675.3,684.1 689.1,680.7 C702.9,677.4 711.3,672.7 721.8,673.1 C732.3,673.5 744.5,678.6 752.0,683.2 C759.5,687.8 764.4,694.1 767.1,700.8 C769.8,707.5 770.5,715.0 768.0,723.4 C765.5,731.8 758.9,742.7 752.0,751.1 C745.1,759.5 737.3,766.6 726.8,773.7 C716.3,780.8 701.7,788.3 689.1,793.8 C676.5,799.2 661.0,803.9 651.4,806.4 C641.8,808.9 636.8,810.6 631.3,808.9 C625.8,807.2 623.7,801.8 618.7,796.3 C613.7,790.8 605.7,783.7 601.1,776.2 C596.5,768.7 594.5,760.1 591.1,751.1 C587.8,742.1 586.9,729.1 581.0,722.0 C575.1,714.9 554.6,711.8 555.9,708.3Z" fill="none" stroke="#cf8c3c" stroke-width="2.2" stroke-linecap="round" stroke-linejoin="round" opacity="0.8"/>
<path d="M640.0,700.0 C641.7,705.0 650.0,720.0 650.0,730.0 C650.0,740.0 639.2,751.7 640.0,760.0 C640.8,768.3 650.8,780.0 655.0,780.0 C659.2,780.0 662.5,767.5 665.0,760.0 C667.5,752.5 666.7,737.5 670.0,735.0 C673.3,732.5 681.7,739.2 685.0,745.0 C688.3,750.8 689.2,765.8 690.0,770.0" fill="none" stroke="#d08040" stroke-width="2.0" stroke-linecap="round" stroke-linejoin="round" opacity="0.8"/>
<path d="M700.0,690.0 C703.3,691.7 714.2,694.2 720.0,700.0 C725.8,705.8 734.2,717.5 735.0,725.0 C735.8,732.5 724.2,742.5 725.0,745.0 C725.8,747.5 737.5,740.8 740.0,740.0" fill="none" stroke="#d08040" stroke-width="2.0" stroke-linecap="round" stroke-linejoin="round" opacity="0.8"/>
<path d="M600.0,735.0 C602.0,738.3 608.3,749.2 612.0,755.0 C615.7,760.8 619.0,769.2 622.0,770.0 C625.0,770.8 629.3,764.2 630.0,760.0 C630.7,755.8 624.3,746.7 626.0,745.0 C627.7,743.3 636.0,745.0 640.0,750.0 C644.0,755.0 646.7,769.2 650.0,775.0 C653.3,780.8 658.3,783.3 660.0,785.0" fill="none" stroke="#d8743c" stroke-width="2.2" stroke-linecap="round" stroke-linejoin="round" opacity="0.85"/>
<path d="M690.0,700.0 C692.5,702.5 700.8,708.3 705.0,715.0 C709.2,721.7 710.0,735.0 715.0,740.0 C720.0,745.0 729.2,745.8 735.0,745.0 C740.8,744.2 747.5,736.7 750.0,735.0" fill="none" stroke="#d8743c" stroke-width="2.0" stroke-linecap="round" stroke-linejoin="round" opacity="0.8"/>
<path d="M275.0,600.0 C280.8,598.3 297.5,590.0 310.0,590.0 C322.5,590.0 336.7,594.2 350.0,600.0 C363.3,605.8 378.3,618.3 390.0,625.0 C401.7,631.7 415.0,637.5 420.0,640.0" fill="none" stroke="#a8969c" stroke-width="3.0" stroke-linecap="round" stroke-linejoin="round" filter="url(#b2)" opacity="0.55"/>
<path d="M285.0,640.0 C290.8,639.2 307.5,633.3 320.0,635.0 C332.5,636.7 346.7,644.5 360.0,650.0 C373.3,655.5 393.3,665.0 400.0,668.0" fill="none" stroke="#a8969c" stroke-width="3.0" stroke-linecap="round" stroke-linejoin="round" filter="url(#b2)" opacity="0.55"/>
<path d="M300.0,530.0 C306.7,532.5 326.7,538.3 340.0,545.0 C353.3,551.7 368.3,560.8 380.0,570.0 C391.7,579.2 405.0,595.0 410.0,600.0" fill="none" stroke="#a8969c" stroke-width="3.0" stroke-linecap="round" stroke-linejoin="round" filter="url(#b2)" opacity="0.55"/>
<path d="M330.0,480.0 C336.7,483.3 358.3,491.7 370.0,500.0 C381.7,508.3 390.0,518.3 400.0,530.0 C410.0,541.7 425.0,563.3 430.0,570.0" fill="none" stroke="#a8969c" stroke-width="3.0" stroke-linecap="round" stroke-linejoin="round" filter="url(#b2)" opacity="0.55"/>
<path d="M380.0,440.0 C385.0,444.2 401.7,455.0 410.0,465.0 C418.3,475.0 424.2,487.5 430.0,500.0 C435.8,512.5 442.5,533.3 445.0,540.0" fill="none" stroke="#a8969c" stroke-width="3.0" stroke-linecap="round" stroke-linejoin="round" filter="url(#b2)" opacity="0.55"/>
<path d="M280.0,618.0 C286.7,617.0 306.7,610.8 320.0,612.0 C333.3,613.2 346.7,619.0 360.0,625.0 C373.3,631.0 393.3,644.2 400.0,648.0" fill="none" stroke="#e2dade" stroke-width="5.0" stroke-linecap="round" stroke-linejoin="round" filter="url(#b2)" opacity="0.7"/>
<path d="M300.0,560.0 C306.7,561.7 327.5,564.7 340.0,570.0 C352.5,575.3 363.3,583.7 375.0,592.0 C386.7,600.3 404.2,615.3 410.0,620.0" fill="none" stroke="#e2dade" stroke-width="5.0" stroke-linecap="round" stroke-linejoin="round" filter="url(#b2)" opacity="0.7"/>
<path d="M350.0,470.0 C355.8,473.3 374.2,480.8 385.0,490.0 C395.8,499.2 406.7,513.3 415.0,525.0 C423.3,536.7 431.7,554.2 435.0,560.0" fill="none" stroke="#e2dade" stroke-width="5.0" stroke-linecap="round" stroke-linejoin="round" filter="url(#b2)" opacity="0.7"/>
<path d="M268.0,630.0 C269.0,634.5 270.7,649.0 274.0,657.0 C277.3,665.0 280.3,672.7 288.0,678.0 C295.7,683.3 307.7,686.5 320.0,689.0 C332.3,691.5 348.3,693.0 362.0,693.0 C375.7,693.0 395.3,689.7 402.0,689.0" fill="none" stroke="#8e7578" stroke-width="5.0" stroke-linecap="round" stroke-linejoin="round" filter="url(#b2)" opacity="0.7"/>
<path d="M272.0,585.0 C276.7,584.2 290.3,579.5 300.0,580.0 C309.7,580.5 320.8,583.8 330.0,588.0 C339.2,592.2 350.8,602.2 355.0,605.0" fill="none" stroke="#a08c92" stroke-width="3.5" stroke-linecap="round" stroke-linejoin="round" filter="url(#b2)" opacity="0.5"/>
<path d="M278.0,660.0 C283.3,660.3 298.8,660.0 310.0,662.0 C321.2,664.0 332.5,669.0 345.0,672.0 C357.5,675.0 378.3,678.7 385.0,680.0" fill="none" stroke="#a08c92" stroke-width="3.5" stroke-linecap="round" stroke-linejoin="round" filter="url(#b2)" opacity="0.5"/>
<path d="M310.0,505.0 C315.8,507.5 334.2,513.3 345.0,520.0 C355.8,526.7 366.7,535.8 375.0,545.0 C383.3,554.2 391.7,570.0 395.0,575.0" fill="none" stroke="#a08c92" stroke-width="3.5" stroke-linecap="round" stroke-linejoin="round" filter="url(#b2)" opacity="0.5"/>
<path d="M350.0,455.0 C355.8,458.3 375.3,466.7 385.0,475.0 C394.7,483.3 402.2,494.2 408.0,505.0 C413.8,515.8 418.0,534.2 420.0,540.0" fill="none" stroke="#a08c92" stroke-width="3.5" stroke-linecap="round" stroke-linejoin="round" filter="url(#b2)" opacity="0.5"/>
<path d="M405.0,415.0 C409.2,419.2 423.3,430.0 430.0,440.0 C436.7,450.0 441.7,463.3 445.0,475.0 C448.3,486.7 449.2,504.2 450.0,510.0" fill="none" stroke="#a08c92" stroke-width="3.5" stroke-linecap="round" stroke-linejoin="round" filter="url(#b2)" opacity="0.5"/>
<path d="M268.6,603.6 C272.2,604.0 282.9,603.2 290.0,606.3 C297.1,609.4 304.7,620.1 311.3,622.3 C317.9,624.5 326.8,620.0 329.9,619.6" fill="none" stroke="#d9743f" stroke-width="3.0" stroke-linecap="round" stroke-linejoin="round" opacity="0.9"/>
<path d="M276.6,633.0 C281.1,634.8 294.4,640.1 303.3,643.6 C312.2,647.1 320.1,652.0 329.9,654.2 C339.7,656.4 352.1,655.1 361.9,656.9 C371.7,658.7 381.4,664.4 388.5,664.9 C395.6,665.4 401.8,660.5 404.5,659.6" fill="none" stroke="#d9743f" stroke-width="3.0" stroke-linecap="round" stroke-linejoin="round" opacity="0.9"/>
<path d="M329.9,619.6 C331.2,622.7 332.6,635.2 337.9,638.3 C343.2,641.4 353.5,640.1 361.9,638.3 C370.3,636.5 381.4,628.5 388.5,627.6 C395.6,626.7 400.1,628.6 404.5,633.0 C408.9,637.4 413.3,650.7 415.1,654.2" fill="none" stroke="#d9743f" stroke-width="3.0" stroke-linecap="round" stroke-linejoin="round" opacity="0.9"/>
<path d="M369.8,590.3 C372.9,587.6 381.8,577.5 388.5,574.4 C395.2,571.3 403.6,569.5 409.8,571.7 C416.0,573.9 421.4,581.9 425.8,587.7 C430.2,593.5 434.6,603.2 436.4,606.3" fill="none" stroke="#d9743f" stroke-width="3.0" stroke-linecap="round" stroke-linejoin="round" opacity="0.9"/>
<path d="M343.2,587.7 C346.3,586.4 357.5,579.3 361.9,579.7 C366.3,580.1 368.5,588.5 369.8,590.3" fill="none" stroke="#d9743f" stroke-width="3.0" stroke-linecap="round" stroke-linejoin="round" opacity="0.9"/>
<path d="M399.1,606.3 C400.9,608.5 406.2,615.2 409.8,619.6 C413.4,624.0 418.6,630.7 420.4,632.9" fill="none" stroke="#d9743f" stroke-width="3.0" stroke-linecap="round" stroke-linejoin="round" opacity="0.9"/>
<path d="M300.0,540.0 C303.0,542.0 311.7,548.9 318.0,552.0 C324.3,555.1 334.6,557.3 337.9,558.4" fill="none" stroke="#d9743f" stroke-width="3.0" stroke-linecap="round" stroke-linejoin="round" opacity="0.9"/>
<path d="M383.2,542.4 C386.0,543.3 394.7,549.8 400.0,548.0 C405.3,546.2 412.6,534.4 415.1,531.7" fill="none" stroke="#d9743f" stroke-width="3.0" stroke-linecap="round" stroke-linejoin="round" opacity="0.9"/>
<path d="M420.4,459.8 C423.1,461.5 431.1,467.8 436.4,470.0 C441.7,472.2 449.7,472.7 452.4,473.2" fill="none" stroke="#d9743f" stroke-width="3.0" stroke-linecap="round" stroke-linejoin="round" opacity="0.9"/>
<path d="M578.8,353.5 C576.2,357.7 567.7,372.4 563.5,378.5 C559.3,384.6 558.6,385.8 553.8,390.0 C549.0,394.2 541.0,399.0 534.6,403.5 C528.2,408.0 519.6,411.4 515.4,416.9 C511.2,422.3 512.8,429.8 509.6,436.2 C506.4,442.6 501.6,449.0 496.2,455.4 C490.8,461.8 482.3,468.2 476.9,474.6 C471.4,481.0 465.4,487.4 463.5,493.8 C461.6,500.2 463.8,505.1 465.4,513.1 C467.0,521.1 469.6,531.3 473.1,541.9 C476.6,552.5 484.3,570.7 486.5,576.5" fill="none" stroke="#d9743f" stroke-width="3.0" stroke-linecap="round" stroke-linejoin="round" opacity="0.9"/>
<path d="M584.6,357.3 C582.7,362.4 578.2,378.8 573.1,388.1 C568.0,397.4 558.3,405.1 553.8,413.1 C549.3,421.1 549.4,428.5 546.2,436.2 C543.0,443.9 541.0,453.1 534.6,459.2 C528.2,465.3 517.3,469.5 507.7,472.7 C498.1,475.9 482.0,477.5 476.9,478.5" fill="none" stroke="#d9743f" stroke-width="3.0" stroke-linecap="round" stroke-linejoin="round" opacity="0.9"/>
<path d="M503.8,372.7 C502.5,376.2 501.3,387.4 496.2,393.8 C491.1,400.2 479.8,404.8 473.1,411.2 C466.4,417.6 460.6,424.9 455.8,432.3 C451.0,439.7 445.8,447.7 444.2,455.4 C442.6,463.1 443.3,471.1 446.2,478.5 C449.1,485.9 458.9,496.1 461.5,499.6" fill="none" stroke="#d9743f" stroke-width="3.0" stroke-linecap="round" stroke-linejoin="round" opacity="0.9"/>
<path d="M490.4,376.5 C485.9,380.0 469.3,390.3 463.5,397.7 C457.7,405.1 460.0,412.5 455.8,420.8 C451.6,429.1 443.6,440.0 438.5,447.7 C433.4,455.4 429.8,460.5 425.0,466.9 C420.2,473.3 413.8,478.5 409.6,486.2 C405.4,493.9 401.6,508.6 400.0,513.1" fill="none" stroke="#d9743f" stroke-width="3.0" stroke-linecap="round" stroke-linejoin="round" opacity="0.9"/>
<path d="M407.7,411.2 C408.0,415.4 407.7,428.2 409.6,436.2 C411.5,444.2 416.6,454.1 419.2,459.2 C421.8,464.3 424.0,465.6 425.0,466.9" fill="none" stroke="#d9743f" stroke-width="3.0" stroke-linecap="round" stroke-linejoin="round" opacity="0.9"/>
<path d="M400.0,499.6 C406.4,498.0 425.7,493.5 438.5,490.0 C451.3,486.5 465.4,481.4 476.9,478.5 C488.4,475.6 498.1,474.0 507.7,472.7 C517.3,471.4 522.1,470.8 534.6,470.8 C547.1,470.8 568.3,469.5 582.7,472.7 C597.1,475.9 614.8,487.1 621.2,490.0" fill="none" stroke="#d9743f" stroke-width="3.0" stroke-linecap="round" stroke-linejoin="round" opacity="0.9"/>
<path d="M436.5,545.0 C437.5,543.2 440.4,533.1 442.3,534.2 C444.2,535.3 445.9,544.5 448.1,551.5 C450.4,558.5 454.5,572.3 455.8,576.5" fill="none" stroke="#d9743f" stroke-width="3.0" stroke-linecap="round" stroke-linejoin="round" opacity="0.9"/>
<path d="M489.4,545.0 C490.2,543.2 492.8,533.1 494.2,534.2 C495.6,535.3 497.8,544.8 498.1,551.5 C498.4,558.2 496.5,570.8 496.2,574.6" fill="none" stroke="#d9743f" stroke-width="3.0" stroke-linecap="round" stroke-linejoin="round" opacity="0.9"/>
<path d="M463.5,513.0 C462.1,517.5 455.2,530.5 455.0,540.0 C454.8,549.5 459.5,561.7 462.0,570.0 C464.5,578.3 468.7,586.7 470.0,590.0" fill="none" stroke="#d9743f" stroke-width="3.0" stroke-linecap="round" stroke-linejoin="round" opacity="0.9"/>
<path d="M425.8,632.9 C423.1,630.7 419.1,626.7 409.8,619.6 C400.5,612.5 380.9,595.6 369.8,590.3 C358.7,585.0 350.3,586.8 343.2,587.7 C336.1,588.6 330.8,590.4 327.2,595.7 C323.6,601.0 325.9,615.2 321.9,619.6 C317.9,624.0 310.9,624.5 303.3,622.3 C295.8,620.1 282.5,609.5 276.6,606.3 C270.7,603.1 269.4,603.5 268.0,603.0" fill="none" stroke="#d9743f" stroke-width="3.0" stroke-linecap="round" stroke-linejoin="round" opacity="0.9"/>
<path d="M369.8,590.3 C370.2,586.3 370.3,574.4 372.5,566.4 C374.7,558.4 380.5,551.7 383.2,542.4 C385.9,533.1 384.1,519.3 388.5,510.4 C392.9,501.5 404.5,497.5 409.8,489.1 C415.1,480.7 420.4,468.2 420.4,459.8 C420.4,451.4 411.1,446.5 409.8,438.5 C408.5,430.5 412.1,416.3 412.5,411.9" fill="none" stroke="#d9743f" stroke-width="3.0" stroke-linecap="round" stroke-linejoin="round" opacity="0.9"/>
<path d="M343.2,587.7 C342.3,582.8 336.6,567.7 337.9,558.4 C339.2,549.1 346.8,540.6 351.2,531.7 C355.6,522.8 363.6,513.5 364.5,505.1 C365.4,496.7 354.3,490.0 356.5,481.1 C358.7,472.2 373.4,461.2 377.8,451.9 C382.2,442.6 382.3,429.6 383.2,425.2" fill="none" stroke="#d9743f" stroke-width="3.0" stroke-linecap="round" stroke-linejoin="round" opacity="0.9"/>
<path d="M471.0,606.3 C467.9,601.9 459.0,588.6 452.4,579.7 C445.8,570.8 437.3,561.0 431.1,553.0 C424.9,545.0 414.2,540.6 415.1,531.7 C416.0,522.8 430.2,509.6 436.4,499.8 C442.6,490.1 450.6,482.1 452.4,473.2 C454.2,464.3 445.3,455.4 447.1,446.5 C448.9,437.6 460.8,428.8 463.0,419.9 C465.2,411.0 460.8,397.7 460.4,393.3" fill="none" stroke="#d9743f" stroke-width="3.0" stroke-linecap="round" stroke-linejoin="round" opacity="0.9"/>
<path d="M284.6,569.0 C287.7,569.9 296.2,569.9 303.3,574.4 C310.4,578.9 323.2,592.2 327.2,595.7" fill="none" stroke="#d9743f" stroke-width="3.0" stroke-linecap="round" stroke-linejoin="round" opacity="0.9"/>
<path d="M303.3,499.8 C305.5,503.4 310.8,518.9 316.6,521.1 C322.4,523.3 331.2,512.2 337.9,513.1 C344.5,514.0 349.9,524.2 356.5,526.4 C363.1,528.6 370.7,527.7 377.8,526.4 C384.9,525.1 392.9,522.8 399.1,518.4 C405.3,514.0 412.4,502.9 415.1,499.8" fill="none" stroke="#d9743f" stroke-width="3.0" stroke-linecap="round" stroke-linejoin="round" opacity="0.9"/>
<path d="M321.9,619.6 C323.2,623.8 325.3,639.1 330.0,645.0 C334.7,650.9 341.7,654.2 350.0,655.0 C358.3,655.8 370.8,647.8 380.0,650.0 C389.2,652.2 400.8,665.0 405.0,668.0" fill="none" stroke="#d9743f" stroke-width="3.0" stroke-linecap="round" stroke-linejoin="round" opacity="0.9"/>
<path d="M534.6,478.4 C542.1,477.5 567.9,473.1 579.9,473.1 C591.9,473.1 599.0,474.8 606.5,478.4 C614.0,481.9 621.6,485.5 625.1,494.4 C628.6,503.3 627.3,525.5 627.8,531.7" fill="none" stroke="#d9743f" stroke-width="3.0" stroke-linecap="round" stroke-linejoin="round" opacity="0.9"/>
<path d="M579.9,473.1 C581.2,469.6 582.1,457.6 587.9,451.8 C593.7,446.0 605.2,439.4 614.5,438.5 C623.8,437.6 635.4,448.3 643.8,446.5 C652.2,444.7 655.4,435.9 665.1,427.9 C674.9,419.9 693.0,404.4 702.3,398.6 C711.6,392.8 717.9,394.1 721.0,393.2" fill="none" stroke="#d9743f" stroke-width="3.0" stroke-linecap="round" stroke-linejoin="round" opacity="0.9"/>
<path d="M643.8,446.5 C645.1,449.6 654.5,458.0 651.8,465.1 C649.1,472.2 631.8,485.1 627.8,489.1" fill="none" stroke="#d9743f" stroke-width="3.0" stroke-linecap="round" stroke-linejoin="round" opacity="0.9"/>
<path d="M651.8,465.1 C657.6,469.1 678.0,481.6 686.4,489.1 C694.8,496.7 700.0,501.1 702.3,510.4 C704.6,519.7 700.4,539.2 700.0,545.0" fill="none" stroke="#d9743f" stroke-width="3.0" stroke-linecap="round" stroke-linejoin="round" opacity="0.9"/>
<path d="M665.1,427.9 C664.2,422.1 658.8,402.5 659.7,393.2 C660.6,383.9 668.6,375.4 670.4,371.9" fill="none" stroke="#d9743f" stroke-width="3.0" stroke-linecap="round" stroke-linejoin="round" opacity="0.9"/>
<path d="M702.3,398.6 C704.1,403.5 706.8,418.6 713.0,427.9 C719.2,437.2 731.6,453.6 739.6,454.5 C747.6,455.4 757.4,436.8 760.9,433.2" fill="none" stroke="#d9743f" stroke-width="3.0" stroke-linecap="round" stroke-linejoin="round" opacity="0.9"/>
<path d="M739.6,454.5 C738.7,458.5 738.7,470.9 734.3,478.4 C729.9,485.9 721.0,497.9 713.0,499.7 C705.0,501.5 690.8,490.9 686.4,489.1" fill="none" stroke="#d9743f" stroke-width="3.0" stroke-linecap="round" stroke-linejoin="round" opacity="0.9"/>
<path d="M593.2,419.9 C599.0,422.1 618.9,432.3 627.8,433.2 C636.7,434.1 641.1,431.9 646.4,425.2 C651.7,418.5 657.5,398.5 659.7,393.2" fill="none" stroke="#d9743f" stroke-width="3.0" stroke-linecap="round" stroke-linejoin="round" opacity="0.9"/>
<path d="M534.6,510.4 C539.9,513.1 558.2,521.1 566.6,526.4 C575.0,531.7 582.1,539.6 585.2,542.3" fill="none" stroke="#d9743f" stroke-width="3.0" stroke-linecap="round" stroke-linejoin="round" opacity="0.9"/>
<path d="M734.3,478.4 C737.8,482.0 749.9,489.7 755.0,500.0 C760.1,510.3 763.3,533.3 765.0,540.0" fill="none" stroke="#d9743f" stroke-width="3.0" stroke-linecap="round" stroke-linejoin="round" opacity="0.9"/>
<path d="M540.0,522.0 C541.3,525.0 545.8,540.0 548.0,540.0 C550.2,540.0 553.5,527.8 553.0,522.0 C552.5,516.2 546.3,507.8 545.0,505.0" fill="none" stroke="#d9743f" stroke-width="3.0" stroke-linecap="round" stroke-linejoin="round" opacity="0.9"/>
<path d="M470.4,610.3 C475.3,606.9 488.4,595.4 500.0,590.0 C511.6,584.6 526.7,582.2 540.0,578.0 C553.3,573.8 568.0,568.7 580.0,565.0 C592.0,561.3 606.7,557.5 612.0,556.0" fill="none" stroke="#d9743f" stroke-width="3.0" stroke-linecap="round" stroke-linejoin="round" opacity="0.9"/>
<path d="M465.4,655.5 C469.5,650.4 480.9,633.4 490.0,625.0 C499.1,616.6 508.3,610.8 520.0,605.0 C531.7,599.2 546.7,595.0 560.0,590.0 C573.3,585.0 593.3,577.5 600.0,575.0" fill="none" stroke="#d9743f" stroke-width="3.0" stroke-linecap="round" stroke-linejoin="round" opacity="0.9"/>
<path d="M508.1,673.1 C513.4,669.2 528.0,657.2 540.0,650.0 C552.0,642.8 566.7,636.3 580.0,630.0 C593.3,623.7 608.3,618.7 620.0,612.0 C631.7,605.3 640.8,597.8 650.0,590.0 C659.2,582.2 670.8,569.2 675.0,565.0" fill="none" stroke="#d9743f" stroke-width="3.0" stroke-linecap="round" stroke-linejoin="round" opacity="0.9"/>
<path d="M523.0,700.0 C529.2,696.7 547.2,685.3 560.0,680.0 C572.8,674.7 586.7,673.0 600.0,668.0 C613.3,663.0 628.3,654.7 640.0,650.0 C651.7,645.3 660.0,643.7 670.0,640.0 C680.0,636.3 695.0,630.0 700.0,628.0" fill="none" stroke="#d9743f" stroke-width="3.0" stroke-linecap="round" stroke-linejoin="round" opacity="0.9"/>
<path d="M600.0,668.0 C603.3,670.8 616.7,682.2 620.0,685.0" fill="none" stroke="#d9743f" stroke-width="3.0" stroke-linecap="round" stroke-linejoin="round" opacity="0.9"/>
<path d="M620.0,612.0 C623.3,614.2 632.5,624.5 640.0,625.0 C647.5,625.5 656.7,619.2 665.0,615.0 C673.3,610.8 684.2,605.8 690.0,600.0 C695.8,594.2 700.0,584.2 700.0,580.0 C700.0,575.8 692.5,573.3 690.0,575.0 C687.5,576.7 684.2,585.8 685.0,590.0 C685.8,594.2 690.0,598.7 695.0,600.0 C700.0,601.3 711.7,598.3 715.0,598.0" fill="none" stroke="#d9743f" stroke-width="3.0" stroke-linecap="round" stroke-linejoin="round" opacity="0.9"/>
<path d="M612.0,556.0 C614.2,560.0 623.7,570.7 625.0,580.0 C626.3,589.3 620.8,606.7 620.0,612.0" fill="none" stroke="#d9743f" stroke-width="3.0" stroke-linecap="round" stroke-linejoin="round" opacity="0.9"/>
<path d="M650.0,590.0 C651.7,595.0 653.3,611.7 660.0,620.0 C666.7,628.3 682.3,633.3 690.0,640.0 C697.7,646.7 703.3,656.7 706.0,660.0" fill="none" stroke="#d9743f" stroke-width="3.0" stroke-linecap="round" stroke-linejoin="round" opacity="0.9"/>
<path d="M440.0,690.0 C438.3,685.0 429.2,670.8 430.0,660.0 C430.8,649.2 438.3,635.0 445.0,625.0 C451.7,615.0 465.8,604.2 470.0,600.0" fill="none" stroke="#d9743f" stroke-width="3.0" stroke-linecap="round" stroke-linejoin="round" opacity="0.9"/>
<path d="M455.0,700.0 C457.5,696.7 464.2,686.7 470.0,680.0 C475.8,673.3 483.7,661.2 490.0,660.0 C496.3,658.8 505.0,670.8 508.0,673.0" fill="none" stroke="#d9743f" stroke-width="3.0" stroke-linecap="round" stroke-linejoin="round" opacity="0.9"/>
<path d="M633.1,354.0 C638.9,350.4 654.0,355.0 665.1,358.0 C676.2,361.0 688.2,365.7 699.7,372.0 C711.2,378.3 723.9,386.8 734.3,396.0 C744.7,405.2 754.5,416.8 762.0,427.0 C769.5,437.2 774.8,447.6 779.0,457.1 C783.2,466.6 786.5,474.5 787.0,483.8 C787.5,493.1 784.8,502.5 782.0,513.1 C779.2,523.8 774.4,538.0 770.0,547.7 C765.6,557.5 760.7,565.6 755.6,571.6 C750.5,577.6 744.5,582.4 739.6,584.0 C734.7,585.6 729.4,584.8 726.3,581.0 C723.2,577.2 725.0,566.1 721.0,561.0 C717.0,555.9 710.3,553.0 702.3,550.3 C694.3,547.6 683.6,545.9 673.0,545.0 C662.4,544.1 648.6,545.0 638.4,545.0 C628.2,545.0 621.5,543.7 611.8,545.0 C602.0,546.3 591.9,550.3 579.9,553.0 C567.9,555.7 550.5,559.7 539.9,561.0 C529.2,562.3 521.3,564.1 516.0,561.0 C510.7,557.9 508.0,548.5 508.0,542.3 C508.0,536.1 512.0,529.0 516.0,523.7 C520.0,518.4 528.8,518.0 531.9,510.4 C535.0,502.8 531.0,489.0 534.6,478.4 C538.2,467.8 543.4,456.2 553.2,446.5 C563.0,436.8 582.1,427.9 593.2,419.9 C604.3,411.9 613.6,405.3 619.8,398.6 C626.0,391.9 628.3,387.3 630.5,379.9 C632.7,372.5 627.3,357.6 633.1,354.0Z" fill="none" stroke="#e28444" stroke-width="2.2" stroke-linecap="round" stroke-linejoin="round" opacity="0.8"/>
<path d="M483.0,710.8 C481.7,709.1 480.0,702.5 475.4,700.8 C470.8,699.1 460.3,702.5 455.3,700.8 C450.3,699.1 444.9,695.7 445.3,690.7 C445.7,685.7 454.5,676.5 457.8,670.6 C461.1,664.7 465.0,661.4 465.4,655.5 C465.8,649.6 459.5,642.9 460.3,635.4 C461.1,627.9 468.7,614.5 470.4,610.3" fill="none" stroke="#c98038" stroke-width="6.0" stroke-linecap="round" stroke-linejoin="round" opacity="0.9"/>
<path d="M484.0,712.0 C484.7,708.3 488.7,696.7 488.0,690.0 C487.3,683.3 483.0,677.8 480.0,672.0 C477.0,666.2 471.7,657.8 470.0,655.0" fill="none" stroke="#c98038" stroke-width="5.0" stroke-linecap="round" stroke-linejoin="round" opacity="0.85"/>
<path d="M508.1,673.1 C509.8,676.0 515.7,683.6 518.2,690.7 C520.7,697.8 520.7,709.2 523.2,715.9 C525.7,722.6 531.6,728.5 533.3,731.0" fill="none" stroke="#c87e3a" stroke-width="7.0" stroke-linecap="round" stroke-linejoin="round" opacity="0.95"/>
</g>
<path d="M533.3,731.0 C536.2,734.4 546.3,746.1 550.9,751.1 C555.5,756.1 556.7,758.2 560.9,761.1 C565.1,764.0 569.3,766.2 576.0,768.7 C582.7,771.2 594.0,771.6 601.1,776.2 C608.2,780.8 614.5,789.6 618.7,796.3 C622.9,803.0 624.4,811.1 626.3,816.4 C628.2,821.7 629.4,826.1 630.0,828.0" fill="none" stroke="#dd7050" stroke-width="7.0" stroke-linecap="round" stroke-linejoin="round" opacity="0.9"/>
<path d="M282.0,731.0 C285.0,729.5 295.0,726.3 300.0,722.0 C305.0,717.7 307.0,706.7 312.0,705.0 C317.0,703.3 324.5,709.2 330.0,712.0 C335.5,714.8 339.2,722.0 345.0,722.0 C350.8,722.0 358.3,713.0 365.0,712.0 C371.7,711.0 379.2,716.0 385.0,716.0 C390.8,716.0 395.5,713.3 400.0,712.0 C404.5,710.7 410.0,708.7 412.0,708.0" fill="none" stroke="#eca590" stroke-width="2.4" stroke-linecap="round" stroke-linejoin="round" />
<path d="M480.5,710.8 C481.3,715.0 483.8,728.5 485.5,736.0 C487.2,743.5 487.1,750.6 490.5,756.1 C493.9,761.6 499.7,766.6 505.6,768.7 C511.5,770.8 519.8,767.0 525.7,768.7 C531.6,770.4 537.4,773.7 540.8,778.7 C544.1,783.7 544.7,793.9 545.8,798.8 C546.9,803.7 547.2,806.5 547.5,808.0" fill="none" stroke="#e98f78" stroke-width="10.0" stroke-linecap="round" stroke-linejoin="round" stroke-linecap="butt"/>
<path d="M519.5,865.0 C519.7,871.5 519.7,889.8 520.5,904.0 C521.3,918.2 523.2,936.5 524.5,950.0 C525.8,963.5 527.3,974.8 528.5,985.0 C529.7,995.2 530.2,999.3 531.5,1011.0 C532.8,1022.7 534.6,1043.8 536.0,1055.0 C537.4,1066.2 538.3,1070.8 540.0,1078.0 C541.7,1085.2 544.9,1089.3 546.0,1098.0 C547.1,1106.7 546.5,1119.5 546.8,1130.0 C547.0,1140.5 547.4,1155.8 547.5,1161.0 A12,12 0 0 0 571.5,1161  C572.1,1154.2 574.2,1136.8 575.0,1120.0 C575.8,1103.2 576.5,1078.2 576.3,1060.0 C576.0,1041.8 574.9,1027.7 573.5,1011.0 C572.1,994.3 569.8,975.2 568.0,960.0 C566.2,944.8 564.7,934.5 563.0,920.0 C561.3,905.5 559.3,888.0 558.0,873.0 C556.7,858.0 555.7,840.6 555.0,830.0 C554.3,819.4 554.2,812.9 554.0,809.5 L543,809.5  C543.2,816.2 543.9,834.9 544.5,850.0 C545.1,865.1 545.7,883.3 546.5,900.0 C547.3,916.7 548.4,933.3 549.5,950.0 C550.6,966.7 552.0,985.0 553.0,1000.0 C554.0,1015.0 554.8,1030.2 555.5,1040.0 C556.2,1049.8 556.8,1055.8 557.0,1059.0 C556.5,1054.2 555.0,1038.0 554.0,1030.0 C553.0,1022.0 552.3,1019.3 551.3,1011.0 C550.3,1002.7 549.7,990.2 548.0,980.0 C546.3,969.8 543.3,962.7 541.0,950.0 C538.7,937.3 536.0,918.2 534.4,904.0 C532.8,889.8 532.0,871.5 531.5,865.0 A6,6 0 0 0 519.5,865 Z" fill="#cf4a10" />
<path d="M549.0,815.0 C549.3,824.7 549.7,853.0 551.0,873.0 C552.3,893.0 554.8,913.8 557.0,935.0 C559.2,956.2 562.8,980.8 564.5,1000.0 C566.2,1019.2 567.2,1031.7 567.0,1050.0 C566.8,1068.3 564.2,1091.7 563.0,1110.0 C561.8,1128.3 560.5,1151.7 560.0,1160.0" fill="none" stroke="#e4672a" stroke-width="5.0" stroke-linecap="round" stroke-linejoin="round" filter="url(#b2)" opacity="0.75"/>
<path d="M525.5,870.0 C525.8,875.7 526.2,890.7 527.5,904.0 C528.8,917.3 530.9,934.0 533.0,950.0 C535.1,966.0 537.8,983.3 540.0,1000.0 C542.2,1016.7 543.8,1035.0 546.0,1050.0 C548.2,1065.0 551.8,1083.3 553.0,1090.0" fill="none" stroke="#e4672a" stroke-width="5.0" stroke-linecap="round" stroke-linejoin="round" filter="url(#b2)" opacity="0.75"/>
<path d="M519.5,865.0 C519.7,871.5 519.7,889.8 520.5,904.0 C521.3,918.2 523.2,936.5 524.5,950.0 C525.8,963.5 527.3,974.8 528.5,985.0 C529.7,995.2 530.2,999.3 531.5,1011.0 C532.8,1022.7 534.6,1043.8 536.0,1055.0 C537.4,1066.2 538.3,1070.8 540.0,1078.0 C541.7,1085.2 544.9,1089.3 546.0,1098.0 C547.1,1106.7 546.5,1119.5 546.8,1130.0 C547.0,1140.5 547.4,1155.8 547.5,1161.0" fill="none" stroke="#b33a08" stroke-width="2.5" stroke-linecap="round" stroke-linejoin="round" filter="url(#b1)" opacity="0.6"/>
<path d="M571.5,1161.0 C572.1,1154.2 574.2,1136.8 575.0,1120.0 C575.8,1103.2 576.5,1078.2 576.3,1060.0 C576.0,1041.8 574.9,1027.7 573.5,1011.0 C572.1,994.3 569.8,975.2 568.0,960.0 C566.2,944.8 564.7,934.5 563.0,920.0 C561.3,905.5 559.3,888.0 558.0,873.0 C556.7,858.0 555.7,840.6 555.0,830.0 C554.3,819.4 554.2,812.9 554.0,809.5" fill="none" stroke="#b33a08" stroke-width="2.5" stroke-linecap="round" stroke-linejoin="round" filter="url(#b1)" opacity="0.6"/>
<path d="M660.0,834.0 C656.9,832.3 647.9,824.8 641.4,824.0 C634.9,823.2 627.5,826.1 621.2,829.0 C614.9,831.9 607.4,836.6 603.6,841.6 C599.8,846.6 598.6,853.8 598.6,859.2 C598.6,864.7 602.8,871.8 603.6,874.3" fill="none" stroke="#e98f78" stroke-width="9.0" stroke-linecap="round" stroke-linejoin="round" stroke-linecap="butt"/>
<ellipse cx="657.5" cy="835.5" rx="9" ry="6.5" fill="#d8421a" transform="rotate(-20 657.5 835.5)"/>
<path d="M604.0,873.0 C606.1,875.1 613.8,880.9 616.7,885.6 C619.6,890.3 622.3,897.3 621.3,901.2 C620.3,905.1 614.7,907.1 610.5,908.9 C606.3,910.7 597.8,908.6 596.0,912.0 C594.2,915.4 597.2,922.1 599.6,929.1 C602.0,936.1 609.0,945.7 610.5,954.0 C612.0,962.3 608.4,970.5 608.9,978.8 C609.4,987.1 612.8,999.8 613.6,1004.0" fill="none" stroke="#cf4a10" stroke-width="9.5" stroke-linecap="round" stroke-linejoin="round" />
</g>
<g filter="url(#b1)">
<path d="M667.0,832.0 C668.5,828.3 675.2,809.8 676.0,810.0 C676.8,810.2 670.5,834.0 672.0,833.0 C673.5,832.0 683.3,805.0 685.0,804.0 C686.7,803.0 680.5,826.7 682.0,827.0 C683.5,827.3 691.2,808.3 694.0,806.0 C696.8,803.7 697.0,813.0 699.0,813.0 C701.0,813.0 703.8,807.7 706.0,806.0 C708.2,804.3 710.0,803.7 712.0,803.0 C714.0,802.3 716.0,803.0 718.0,802.0 C720.0,801.0 723.0,797.8 724.0,797.0" fill="none" stroke="#7e7e7e" stroke-width="1.7" stroke-linecap="round" stroke-linejoin="round" opacity="0.85"/>
<path d="M736.0,788.0 C736.7,786.0 738.7,775.8 740.0,776.0 C741.3,776.2 742.5,789.2 744.0,789.0 C745.5,788.8 747.5,775.7 749.0,775.0 C750.5,774.3 751.2,784.5 753.0,785.0 C754.8,785.5 757.8,778.8 760.0,778.0 C762.2,777.2 764.0,781.0 766.0,780.0 C768.0,779.0 769.8,773.3 772.0,772.0 C774.2,770.7 776.7,773.3 779.0,772.0 C781.3,770.7 783.7,765.7 786.0,764.0 C788.3,762.3 790.7,764.0 793.0,762.0 C795.3,760.0 797.5,754.5 800.0,752.0 C802.5,749.5 806.7,747.8 808.0,747.0" fill="none" stroke="#7e7e7e" stroke-width="1.7" stroke-linecap="round" stroke-linejoin="round" opacity="0.85"/>
<text x="0" y="0" transform="translate(676,872.5) rotate(-34.6)" font-size="27.1" fill="#262626" stroke="#262626" stroke-width="0.35" opacity="0.95">© Mayfield Clinic</text>
</g>
<g filter="url(#b1)">
<circle cx="338.5" cy="970.5" r="139" fill="#c9f0e0" stroke="#3fcc86" stroke-width="4"/>
<path d="M325.5,842.0 C325.2,846.7 324.8,861.2 324.0,870.0 C323.2,878.8 322.0,888.7 321.0,895.0 C320.0,901.3 318.5,905.8 318.0,908.0" fill="none" stroke="#c92f10" stroke-width="11.0" stroke-linecap="butt" stroke-linejoin="round"/>
<path d="M325.5,842.0 C325.2,846.7 324.8,861.2 324.0,870.0 C323.2,878.8 322.0,888.7 321.0,895.0 C320.0,901.3 318.5,905.8 318.0,908.0" fill="none" stroke="#e8401c" stroke-width="8.6" stroke-linecap="butt" stroke-linejoin="round"/>
<path d="M348.5,842.0 C349.1,846.3 350.4,859.7 352.0,868.0 C353.6,876.3 356.0,885.2 358.0,892.0 C360.0,898.8 363.0,905.8 364.0,908.5" fill="none" stroke="#c92f10" stroke-width="11.0" stroke-linecap="butt" stroke-linejoin="round"/>
<path d="M348.5,842.0 C349.1,846.3 350.4,859.7 352.0,868.0 C353.6,876.3 356.0,885.2 358.0,892.0 C360.0,898.8 363.0,905.8 364.0,908.5" fill="none" stroke="#e8401c" stroke-width="8.6" stroke-linecap="butt" stroke-linejoin="round"/>
<path d="M318.0,909.0 C321.7,909.5 332.3,912.0 340.0,912.0 C347.7,912.0 360.0,909.5 364.0,909.0" fill="none" stroke="#c92f10" stroke-width="7.0" stroke-linecap="round" stroke-linejoin="round"/>
<path d="M318.0,909.0 C321.7,909.5 332.3,912.0 340.0,912.0 C347.7,912.0 360.0,909.5 364.0,909.0" fill="none" stroke="#e8401c" stroke-width="4.6" stroke-linecap="round" stroke-linejoin="round"/>
<path d="M317.5,908.7 C315.4,910.2 308.7,915.4 305.0,918.0 C301.3,920.6 300.6,922.1 295.3,924.3 C290.0,926.5 279.6,928.4 273.0,931.0 C266.4,933.6 260.9,936.1 255.4,939.8 C249.9,943.5 244.7,949.5 239.8,953.0 C234.9,956.5 228.3,959.7 226.0,961.0" fill="none" stroke="#c92f10" stroke-width="16.0" stroke-linecap="round" stroke-linejoin="round"/>
<path d="M317.5,908.7 C315.4,910.2 308.7,915.4 305.0,918.0 C301.3,920.6 300.6,922.1 295.3,924.3 C290.0,926.5 279.6,928.4 273.0,931.0 C266.4,933.6 260.9,936.1 255.4,939.8 C249.9,943.5 244.7,949.5 239.8,953.0 C234.9,956.5 228.3,959.7 226.0,961.0" fill="none" stroke="#e8401c" stroke-width="13.6" stroke-linecap="round" stroke-linejoin="round"/>
<path d="M364.0,908.7 C365.9,910.9 370.0,918.3 375.2,922.0 C380.4,925.7 387.0,928.0 395.1,931.0 C403.2,934.0 416.2,936.5 424.0,939.8 C431.8,943.1 436.5,947.9 441.7,950.9 C446.9,953.9 452.8,956.8 455.0,958.0" fill="none" stroke="#c92f10" stroke-width="16.0" stroke-linecap="round" stroke-linejoin="round"/>
<path d="M364.0,908.7 C365.9,910.9 370.0,918.3 375.2,922.0 C380.4,925.7 387.0,928.0 395.1,931.0 C403.2,934.0 416.2,936.5 424.0,939.8 C431.8,943.1 436.5,947.9 441.7,950.9 C446.9,953.9 452.8,956.8 455.0,958.0" fill="none" stroke="#e8401c" stroke-width="13.6" stroke-linecap="round" stroke-linejoin="round"/>
<path d="M397.0,911.0 C395.8,912.5 392.2,917.2 390.0,920.0 C387.8,922.8 385.0,926.7 384.0,928.0" fill="none" stroke="#c92f10" stroke-width="12.0" stroke-linecap="round" stroke-linejoin="round"/>
<path d="M397.0,911.0 C395.8,912.5 392.2,917.2 390.0,920.0 C387.8,922.8 385.0,926.7 384.0,928.0" fill="none" stroke="#e8401c" stroke-width="9.6" stroke-linecap="round" stroke-linejoin="round"/>
<path d="M283.0,915.0 C283.5,916.5 285.5,922.5 286.0,924.0" fill="none" stroke="#c92f10" stroke-width="5.0" stroke-linecap="round" stroke-linejoin="round"/>
<path d="M283.0,915.0 C283.5,916.5 285.5,922.5 286.0,924.0" fill="none" stroke="#e8401c" stroke-width="2.6" stroke-linecap="round" stroke-linejoin="round"/>
<path d="M184.0,932.0 C187.5,934.5 197.7,942.2 205.0,947.0 C212.3,951.8 220.5,956.7 228.0,961.0 C235.5,965.3 243.3,970.2 250.0,973.0 C256.7,975.8 262.5,978.0 268.0,978.0 C273.5,978.0 279.2,976.3 283.0,973.0 C286.8,969.7 289.2,963.5 291.0,958.0 C292.8,952.5 293.0,945.5 294.0,940.0 C295.0,934.5 296.5,927.5 297.0,925.0" fill="none" stroke="#c92f10" stroke-width="19.0" stroke-linecap="butt" stroke-linejoin="round"/>
<path d="M184.0,932.0 C187.5,934.5 197.7,942.2 205.0,947.0 C212.3,951.8 220.5,956.7 228.0,961.0 C235.5,965.3 243.3,970.2 250.0,973.0 C256.7,975.8 262.5,978.0 268.0,978.0 C273.5,978.0 279.2,976.3 283.0,973.0 C286.8,969.7 289.2,963.5 291.0,958.0 C292.8,952.5 293.0,945.5 294.0,940.0 C295.0,934.5 296.5,927.5 297.0,925.0" fill="none" stroke="#e8401c" stroke-width="16.6" stroke-linecap="butt" stroke-linejoin="round"/>
<path d="M490.0,932.0 C486.7,934.3 476.6,941.7 470.0,946.0 C463.4,950.3 458.3,953.1 450.6,957.6 C442.9,962.1 431.4,969.5 424.0,973.0 C416.6,976.5 411.9,978.5 406.2,978.5 C400.5,978.5 394.2,976.9 390.0,973.0 C385.8,969.1 382.8,960.8 381.0,955.0 C379.2,949.2 379.5,942.8 379.0,938.0 C378.5,933.2 378.2,928.0 378.0,926.0" fill="none" stroke="#c92f10" stroke-width="19.0" stroke-linecap="butt" stroke-linejoin="round"/>
<path d="M490.0,932.0 C486.7,934.3 476.6,941.7 470.0,946.0 C463.4,950.3 458.3,953.1 450.6,957.6 C442.9,962.1 431.4,969.5 424.0,973.0 C416.6,976.5 411.9,978.5 406.2,978.5 C400.5,978.5 394.2,976.9 390.0,973.0 C385.8,969.1 382.8,960.8 381.0,955.0 C379.2,949.2 379.5,942.8 379.0,938.0 C378.5,933.2 378.2,928.0 378.0,926.0" fill="none" stroke="#e8401c" stroke-width="16.6" stroke-linecap="butt" stroke-linejoin="round"/>
<ellipse cx="185" cy="932.5" rx="5" ry="9.5" fill="#f05a34" transform="rotate(-52 185 932.5)"/>
<ellipse cx="489.5" cy="932.5" rx="5" ry="9.5" fill="#f05a34" transform="rotate(52 489.5 932.5)"/>
<path d="M291.0,984.0 C289.8,986.2 285.2,992.7 284.0,997.0 C282.8,1001.3 282.8,1005.8 284.0,1010.0 C285.2,1014.2 288.3,1018.0 291.0,1022.0 C293.7,1026.0 296.5,1030.7 300.0,1034.0 C303.5,1037.3 310.0,1040.7 312.0,1042.0" fill="none" stroke="#c92f10" stroke-width="7.5" stroke-linecap="round" stroke-linejoin="round"/>
<path d="M291.0,984.0 C289.8,986.2 285.2,992.7 284.0,997.0 C282.8,1001.3 282.8,1005.8 284.0,1010.0 C285.2,1014.2 288.3,1018.0 291.0,1022.0 C293.7,1026.0 296.5,1030.7 300.0,1034.0 C303.5,1037.3 310.0,1040.7 312.0,1042.0" fill="none" stroke="#e8401c" stroke-width="5.1" stroke-linecap="round" stroke-linejoin="round"/>
<path d="M395.0,988.0 C394.2,990.3 391.8,997.3 390.0,1002.0 C388.2,1006.7 386.0,1011.7 384.0,1016.0 C382.0,1020.3 380.7,1024.0 378.0,1028.0 C375.3,1032.0 369.7,1038.0 368.0,1040.0" fill="none" stroke="#c92f10" stroke-width="7.0" stroke-linecap="round" stroke-linejoin="round"/>
<path d="M395.0,988.0 C394.2,990.3 391.8,997.3 390.0,1002.0 C388.2,1006.7 386.0,1011.7 384.0,1016.0 C382.0,1020.3 380.7,1024.0 378.0,1028.0 C375.3,1032.0 369.7,1038.0 368.0,1040.0" fill="none" stroke="#e8401c" stroke-width="4.6" stroke-linecap="round" stroke-linejoin="round"/>
<path d="M342.0,1052.0 C339.2,1050.3 330.6,1044.3 325.0,1042.0 C319.4,1039.7 314.1,1038.0 308.6,1038.0 C303.1,1038.0 297.3,1039.7 292.0,1042.0 C286.7,1044.3 281.0,1048.7 277.0,1052.0 C273.0,1055.3 269.5,1060.3 268.0,1062.0" fill="none" stroke="#c92f10" stroke-width="14.0" stroke-linecap="butt" stroke-linejoin="round"/>
<path d="M342.0,1052.0 C339.2,1050.3 330.6,1044.3 325.0,1042.0 C319.4,1039.7 314.1,1038.0 308.6,1038.0 C303.1,1038.0 297.3,1039.7 292.0,1042.0 C286.7,1044.3 281.0,1048.7 277.0,1052.0 C273.0,1055.3 269.5,1060.3 268.0,1062.0" fill="none" stroke="#e8401c" stroke-width="11.6" stroke-linecap="butt" stroke-linejoin="round"/>
<path d="M340.0,1052.0 C342.7,1049.7 350.2,1042.0 356.0,1038.0 C361.8,1034.0 368.5,1030.2 375.0,1028.0 C381.5,1025.8 388.5,1024.3 395.0,1024.5 C401.5,1024.7 408.2,1026.4 414.0,1029.0 C419.8,1031.6 425.2,1035.8 430.0,1040.0 C434.8,1044.2 440.8,1051.7 443.0,1054.0" fill="none" stroke="#c92f10" stroke-width="14.0" stroke-linecap="butt" stroke-linejoin="round"/>
<path d="M340.0,1052.0 C342.7,1049.7 350.2,1042.0 356.0,1038.0 C361.8,1034.0 368.5,1030.2 375.0,1028.0 C381.5,1025.8 388.5,1024.3 395.0,1024.5 C401.5,1024.7 408.2,1026.4 414.0,1029.0 C419.8,1031.6 425.2,1035.8 430.0,1040.0 C434.8,1044.2 440.8,1051.7 443.0,1054.0" fill="none" stroke="#e8401c" stroke-width="11.6" stroke-linecap="butt" stroke-linejoin="round"/>
<ellipse cx="267.5" cy="1062.5" rx="4" ry="7" fill="#f05a34" transform="rotate(-38 267.5 1062.5)"/>
<ellipse cx="443.5" cy="1054.5" rx="4" ry="7" fill="#f05a34" transform="rotate(38 443.5 1054.5)"/>
<path d="M334.0,1066.0 C331.3,1065.2 323.7,1061.5 318.0,1061.0 C312.3,1060.5 305.2,1061.2 300.0,1063.0 C294.8,1064.8 290.7,1068.7 287.0,1072.0 C283.3,1075.3 279.5,1081.2 278.0,1083.0" fill="none" stroke="#c92f10" stroke-width="8.0" stroke-linecap="round" stroke-linejoin="round"/>
<path d="M334.0,1066.0 C331.3,1065.2 323.7,1061.5 318.0,1061.0 C312.3,1060.5 305.2,1061.2 300.0,1063.0 C294.8,1064.8 290.7,1068.7 287.0,1072.0 C283.3,1075.3 279.5,1081.2 278.0,1083.0" fill="none" stroke="#e8401c" stroke-width="5.6" stroke-linecap="round" stroke-linejoin="round"/>
<path d="M350.0,1058.0 C353.7,1057.0 364.5,1053.2 372.0,1052.0 C379.5,1050.8 388.3,1050.2 395.0,1051.0 C401.7,1051.8 407.2,1054.2 412.0,1057.0 C416.8,1059.8 420.8,1064.2 424.0,1068.0 C427.2,1071.8 429.8,1078.0 431.0,1080.0" fill="none" stroke="#c92f10" stroke-width="8.0" stroke-linecap="round" stroke-linejoin="round"/>
<path d="M350.0,1058.0 C353.7,1057.0 364.5,1053.2 372.0,1052.0 C379.5,1050.8 388.3,1050.2 395.0,1051.0 C401.7,1051.8 407.2,1054.2 412.0,1057.0 C416.8,1059.8 420.8,1064.2 424.0,1068.0 C427.2,1071.8 429.8,1078.0 431.0,1080.0" fill="none" stroke="#e8401c" stroke-width="5.6" stroke-linecap="round" stroke-linejoin="round"/>
<path d="M342.0,1050.0 C341.8,1054.2 340.9,1066.7 340.5,1075.0 C340.1,1083.3 339.6,1091.0 339.7,1100.0 C339.8,1109.0 339.7,1119.5 340.8,1128.7 C341.9,1137.9 344.4,1146.9 346.3,1155.4 C348.2,1164.0 351.1,1173.2 352.0,1180.0 C352.9,1186.8 352.0,1193.3 352.0,1196.0" fill="none" stroke="#c92f10" stroke-width="22.0" stroke-linecap="butt" stroke-linejoin="round"/>
<path d="M342.0,1050.0 C341.8,1054.2 340.9,1066.7 340.5,1075.0 C340.1,1083.3 339.6,1091.0 339.7,1100.0 C339.8,1109.0 339.7,1119.5 340.8,1128.7 C341.9,1137.9 344.4,1146.9 346.3,1155.4 C348.2,1164.0 351.1,1173.2 352.0,1180.0 C352.9,1186.8 352.0,1193.3 352.0,1196.0" fill="none" stroke="#e8401c" stroke-width="19.6" stroke-linecap="butt" stroke-linejoin="round"/>
<path d="M343.0,1140.0 C343.8,1143.3 345.9,1153.0 347.5,1160.0 C349.1,1167.0 351.6,1175.3 352.5,1182.0 C353.4,1188.7 352.9,1197.0 353.0,1200.0" fill="none" stroke="#c92f10" stroke-width="26.0" stroke-linecap="butt" stroke-linejoin="round"/>
<path d="M343.0,1140.0 C343.8,1143.3 345.9,1153.0 347.5,1160.0 C349.1,1167.0 351.6,1175.3 352.5,1182.0 C353.4,1188.7 352.9,1197.0 353.0,1200.0" fill="none" stroke="#e8401c" stroke-width="23.6" stroke-linecap="butt" stroke-linejoin="round"/>
<path d="M295.0,1149.0 C297.5,1148.2 303.8,1145.2 310.0,1144.0 C316.2,1142.8 328.3,1142.3 332.0,1142.0" fill="none" stroke="#c92f10" stroke-width="6.5" stroke-linecap="round" stroke-linejoin="round"/>
<path d="M295.0,1149.0 C297.5,1148.2 303.8,1145.2 310.0,1144.0 C316.2,1142.8 328.3,1142.3 332.0,1142.0" fill="none" stroke="#e8401c" stroke-width="4.1" stroke-linecap="round" stroke-linejoin="round"/>
<path d="M358.0,1152.0 C360.8,1152.2 369.3,1153.3 375.0,1153.0 C380.7,1152.7 389.2,1150.5 392.0,1150.0" fill="none" stroke="#c92f10" stroke-width="6.5" stroke-linecap="round" stroke-linejoin="round"/>
<path d="M358.0,1152.0 C360.8,1152.2 369.3,1153.3 375.0,1153.0 C380.7,1152.7 389.2,1150.5 392.0,1150.0" fill="none" stroke="#e8401c" stroke-width="4.1" stroke-linecap="round" stroke-linejoin="round"/>
<path d="M352.0,1186.0 C349.3,1188.7 342.5,1193.8 336.0,1202.0 C329.5,1210.2 320.5,1223.2 313.0,1235.0 C305.5,1246.8 297.6,1261.9 290.9,1273.0 C284.2,1284.1 279.1,1293.6 273.0,1301.8 C266.9,1310.0 257.2,1318.6 254.0,1322.0" fill="none" stroke="#c92f10" stroke-width="20.0" stroke-linecap="butt" stroke-linejoin="round"/>
<path d="M352.0,1186.0 C349.3,1188.7 342.5,1193.8 336.0,1202.0 C329.5,1210.2 320.5,1223.2 313.0,1235.0 C305.5,1246.8 297.6,1261.9 290.9,1273.0 C284.2,1284.1 279.1,1293.6 273.0,1301.8 C266.9,1310.0 257.2,1318.6 254.0,1322.0" fill="none" stroke="#e8401c" stroke-width="17.6" stroke-linecap="butt" stroke-linejoin="round"/>
<path d="M355.0,1186.0 C355.7,1193.1 357.4,1215.9 359.0,1228.6 C360.6,1241.2 360.3,1251.6 364.5,1261.9 C368.7,1272.2 377.2,1283.5 384.0,1290.7 C390.8,1297.9 397.7,1300.5 405.0,1305.0 C412.3,1309.5 424.2,1315.8 428.0,1318.0" fill="none" stroke="#c92f10" stroke-width="20.0" stroke-linecap="butt" stroke-linejoin="round"/>
<path d="M355.0,1186.0 C355.7,1193.1 357.4,1215.9 359.0,1228.6 C360.6,1241.2 360.3,1251.6 364.5,1261.9 C368.7,1272.2 377.2,1283.5 384.0,1290.7 C390.8,1297.9 397.7,1300.5 405.0,1305.0 C412.3,1309.5 424.2,1315.8 428.0,1318.0" fill="none" stroke="#e8401c" stroke-width="17.6" stroke-linecap="butt" stroke-linejoin="round"/>
<path d="M287.0,1223.0 C288.0,1225.2 290.8,1232.2 293.0,1236.0 C295.2,1239.8 298.8,1244.3 300.0,1246.0" fill="none" stroke="#c92f10" stroke-width="6.0" stroke-linecap="round" stroke-linejoin="round"/>
<path d="M287.0,1223.0 C288.0,1225.2 290.8,1232.2 293.0,1236.0 C295.2,1239.8 298.8,1244.3 300.0,1246.0" fill="none" stroke="#e8401c" stroke-width="3.6" stroke-linecap="round" stroke-linejoin="round"/>
<path d="M401.5,1269.0 C400.8,1270.8 398.4,1276.5 397.0,1280.0 C395.6,1283.5 393.7,1288.3 393.0,1290.0" fill="none" stroke="#c92f10" stroke-width="6.0" stroke-linecap="round" stroke-linejoin="round"/>
<path d="M401.5,1269.0 C400.8,1270.8 398.4,1276.5 397.0,1280.0 C395.6,1283.5 393.7,1288.3 393.0,1290.0" fill="none" stroke="#e8401c" stroke-width="3.6" stroke-linecap="round" stroke-linejoin="round"/>
<path d="M339.7,1224.0 C339.6,1227.5 339.2,1238.8 339.0,1245.0 C338.8,1251.2 338.7,1258.3 338.6,1261.0" fill="none" stroke="#c92f10" stroke-width="3.6" stroke-linecap="round" stroke-linejoin="round"/>
<path d="M339.7,1224.0 C339.6,1227.5 339.2,1238.8 339.0,1245.0 C338.8,1251.2 338.7,1258.3 338.6,1261.0" fill="none" stroke="#e8401c" stroke-width="1.2" stroke-linecap="round" stroke-linejoin="round"/>
<path d="M347.0,1213.0 C346.3,1214.5 344.0,1218.8 343.0,1222.0 C342.0,1225.2 341.3,1230.3 341.0,1232.0" fill="none" stroke="#c92f10" stroke-width="3.0" stroke-linecap="round" stroke-linejoin="round"/>
<path d="M347.0,1213.0 C346.3,1214.5 344.0,1218.8 343.0,1222.0 C342.0,1225.2 341.3,1230.3 341.0,1232.0" fill="none" stroke="#e8401c" stroke-width="0.6" stroke-linecap="round" stroke-linejoin="round"/>
<path d="M225.0,955.0 C229.2,957.2 242.5,965.2 250.0,968.0 C257.5,970.8 264.2,972.3 270.0,972.0 C275.8,971.7 282.5,967.0 285.0,966.0" fill="none" stroke="#f4643c" stroke-width="5.0" stroke-linecap="round" opacity="0.55" filter="url(#b2)"/>
<path d="M452.0,955.0 C448.0,957.2 435.3,965.2 428.0,968.0 C420.7,970.8 413.8,972.3 408.0,972.0 C402.2,971.7 395.5,967.0 393.0,966.0" fill="none" stroke="#f4643c" stroke-width="5.0" stroke-linecap="round" opacity="0.55" filter="url(#b2)"/>
<path d="M338.0,1070.0 C337.8,1075.0 336.8,1090.0 337.0,1100.0 C337.2,1110.0 337.8,1120.0 339.0,1130.0 C340.2,1140.0 343.2,1155.0 344.0,1160.0" fill="none" stroke="#f4643c" stroke-width="6.0" stroke-linecap="round" opacity="0.55" filter="url(#b2)"/>
<path d="M330.0,1215.0 C326.7,1220.0 316.7,1234.2 310.0,1245.0 C303.3,1255.8 293.3,1274.2 290.0,1280.0" fill="none" stroke="#f4643c" stroke-width="5.0" stroke-linecap="round" opacity="0.55" filter="url(#b2)"/>
<path d="M362.0,1225.0 C363.0,1230.8 363.7,1249.5 368.0,1260.0 C372.3,1270.5 384.7,1283.3 388.0,1288.0" fill="none" stroke="#f4643c" stroke-width="5.0" stroke-linecap="round" opacity="0.55" filter="url(#b2)"/>
</g>
<g filter="url(#b09)">
<path d="M343.5,397.6 L470.7,610.0" stroke="#050505" stroke-width="3.0" fill="none" stroke-linecap="butt"/>
<path d="M294.7,487.0 L402.3,618.4" stroke="#050505" stroke-width="3.0" fill="none" stroke-linecap="butt"/>
<path d="M704.7,510.7 L619.8,612.0" stroke="#050505" stroke-width="3.0" fill="none" stroke-linecap="butt"/>
<path d="M712.0,628.7 L621.9,640.3" stroke="#050505" stroke-width="3.0" fill="none" stroke-linecap="butt"/>
<path d="M629.3,720.8 L544.8,745.6" stroke="#050505" stroke-width="3.0" fill="none" stroke-linecap="butt"/>
<path d="M429.0,783.4 L491.1,677.5" stroke="#050505" stroke-width="3.0" fill="none" stroke-linecap="butt"/>
<path d="M520.0,772.0 L480.2,849.0" stroke="#050505" stroke-width="3.0" fill="none" stroke-linecap="butt"/>
<path d="M428.0,854.0 L393.2,918.6" stroke="#050505" stroke-width="3.0" fill="none" stroke-linecap="butt"/>
<path d="M256.6,892.7 L338.6,913.6" stroke="#050505" stroke-width="3.0" fill="none" stroke-linecap="butt"/>
<path d="M251.6,1024.4 L286.4,1012.0" stroke="#050505" stroke-width="3.0" fill="none" stroke-linecap="butt"/>
<path d="M282.0,1124.3 L337.4,1124.3" stroke="#050505" stroke-width="3.0" fill="none" stroke-linecap="butt"/>
<path d="M612.0,960.5 L651.7,960.5" stroke="#050505" stroke-width="3.0" fill="none" stroke-linecap="butt"/>
<path d="M570.0,1043.0 L632.5,1043.0" stroke="#050505" stroke-width="3.0" fill="none" stroke-linecap="butt"/>
<path d="M548.3,1065.8 L630.0,1090.7" stroke="#050505" stroke-width="3.0" fill="none" stroke-linecap="butt"/>
<path d="M565.0,1132.6 L620.5,1132.6" stroke="#050505" stroke-width="5.0" fill="none" stroke-linecap="butt"/>
<text x="230.5" y="357.0" class="lb">middle</text>
<text x="230.5" y="390.0" class="lb">cerebral</text>
<text x="168.5" y="448.0" class="lb">anterior</text>
<text x="168.5" y="480.3" class="lb">cerebral</text>
<text x="707.5" y="508.6" class="lb">posterior</text>
<text x="709.5" y="541.0" class="lb">cerebral</text>
<text x="720.0" y="636.0" class="lb">superior</text>
<text x="720.0" y="669.3" class="lb">cerebellar</text>
<text x="636.5" y="728.7" class="lb">basilar</text>
<text x="205.5" y="778.4" class="lb">posterior</text>
<text x="205.5" y="810.0" class="lb">communicating</text>
<text x="437.0" y="873.8" class="lb">ICA</text>
<text x="163.5" y="897.7" class="lb">Acom</text>
<text x="297.5" y="955.8" class="lb">circle</text>
<text x="325.0" y="988.0" class="lb">of</text>
<text x="297.5" y="1020.5" class="lb">Willis</text>
<text x="160.0" y="1036.9" class="lb">Pcom</text>
<text x="169.5" y="1132.3" class="lb">basilar</text>
<text x="661.5" y="969.0" class="lb">vertebral</text>
<text x="641.0" y="1048.0" class="lb">internal carotid</text>
<text x="634.5" y="1097.2" class="lb">external carotid</text>
<text x="628.0" y="1140.8" class="lb">common carotid</text>
</g>
</g>
<g id="right" filter="url(#b09)">
<defs><clipPath id="clipR"><rect x="1040" y="300" width="1360" height="989.6"/></clipPath></defs>
<g clip-path="url(#clipR)">
<g><path d="M1647.6,330.8 C1647.5,333.3 1647.5,340.1 1646.8,346.0 C1646.1,351.9 1645.1,359.7 1643.5,366.0 C1641.9,372.3 1639.6,378.5 1637.0,384.0 C1634.4,389.5 1631.2,394.7 1628.0,399.0 C1624.8,403.3 1619.7,408.2 1618.0,410.0" fill="none" stroke="#120505" stroke-width="20.0" stroke-linecap="round" stroke-linejoin="round"/>
<path d="M1634.0,392.0 C1632.7,393.8 1629.3,399.1 1626.0,403.0 C1622.7,406.9 1618.2,412.2 1614.0,415.5 C1609.8,418.8 1606.7,420.7 1601.0,422.5 C1595.3,424.3 1587.5,425.3 1580.0,426.5 C1572.5,427.7 1564.3,428.2 1556.0,429.5 C1547.7,430.8 1538.3,432.5 1530.0,434.5 C1521.7,436.5 1513.5,438.8 1506.0,441.5 C1498.5,444.2 1488.5,449.4 1485.0,451.0" fill="none" stroke="#120505" stroke-width="23.4" stroke-linecap="round" stroke-linejoin="round"/>
<path d="M1512.0,439.5 C1509.3,440.6 1501.3,443.6 1496.0,446.0 C1490.7,448.4 1485.0,451.0 1480.0,454.0 C1475.0,457.0 1470.4,460.2 1466.0,464.0 C1461.6,467.8 1456.8,472.7 1453.5,477.0 C1450.2,481.3 1447.9,485.7 1446.0,490.0 C1444.1,494.3 1442.8,498.8 1442.0,503.0 C1441.2,507.2 1441.2,513.0 1441.0,515.0" fill="none" stroke="#120505" stroke-width="21.6" stroke-linecap="round" stroke-linejoin="round"/>
<path d="M1638,392.8 Q1675.5,396.6 1713,392.8" fill="none" stroke="#120505" stroke-width="12.4" stroke-linecap="butt" stroke-linejoin="round"/>
<path d="M1676,396 L1676,428.5" fill="none" stroke="#120505" stroke-width="13.5" stroke-linecap="butt" stroke-linejoin="round"/>
<path d="M1488.0,536.0 C1489.4,538.7 1493.3,546.9 1496.6,552.4 C1499.8,557.9 1503.8,563.2 1507.5,569.0 C1511.2,574.8 1515.5,581.2 1518.5,587.0 C1521.5,592.8 1523.7,596.5 1525.5,604.0 C1527.3,611.5 1528.8,622.3 1529.5,632.0 C1530.2,641.7 1528.8,652.0 1530.0,662.0 C1531.2,672.0 1533.0,682.7 1536.5,692.0 C1540.0,701.3 1545.1,710.0 1551.0,718.0 C1556.9,726.0 1568.5,736.3 1572.0,740.0" fill="none" stroke="#120505" stroke-width="26.0" stroke-linecap="butt" stroke-linejoin="round"/>
<path d="M1465.7,769.2 C1469.8,766.6 1481.6,757.4 1490.0,753.5 C1498.4,749.6 1507.3,747.5 1516.0,746.0 C1524.7,744.5 1533.0,744.2 1542.0,744.5 C1551.0,744.8 1560.3,745.6 1570.0,747.5 C1579.7,749.4 1588.3,751.1 1600.0,756.0 C1611.7,760.9 1625.0,768.5 1640.0,777.0 C1655.0,785.5 1681.7,802.0 1690.0,807.0" fill="none" stroke="#120505" stroke-width="30.0" stroke-linecap="butt" stroke-linejoin="round"/>
<path d="M1490.0,806.0 C1493.5,802.8 1503.0,791.9 1511.0,787.0 C1519.0,782.1 1527.8,779.1 1538.0,776.5 C1548.2,773.9 1561.2,770.7 1572.0,771.5 C1582.8,772.3 1593.5,775.9 1603.0,781.5 C1612.5,787.1 1621.5,795.9 1629.0,805.0 C1636.5,814.1 1642.8,825.5 1648.0,836.0 C1653.2,846.5 1657.3,857.3 1660.0,868.0 C1662.7,878.7 1663.3,894.7 1664.0,900.0" fill="none" stroke="#120505" stroke-width="22.0" stroke-linecap="butt" stroke-linejoin="round"/>
<path d="M1678,788 L1560,766 L1540.0,780.0 C1543.3,780.9 1553.7,783.8 1560.0,785.5 C1566.3,787.2 1571.1,787.4 1578.0,790.0 C1584.9,792.6 1593.4,795.8 1601.2,801.2 C1609.0,806.6 1618.1,814.6 1624.8,822.5 C1631.5,830.4 1637.1,840.2 1641.4,848.5 C1645.8,856.8 1648.7,864.5 1650.9,872.2 C1653.1,880.0 1653.9,891.2 1654.5,895.0 L1654.5,1050 L1678,1105 Z" fill="#120505" stroke="#120505" stroke-width="2.4" stroke-linejoin="round"/>
<path d="M1656,886.3 Q1650,892.7 1632,892.9 L1600,893.1 A5.3,5.3 0 0 0 1600,903.5 L1632,903.7 Q1650,903.9 1656,910.3 Z" fill="#120505" stroke="#120505" stroke-width="2.4" stroke-linejoin="round"/>
<path d="M1656,910.0 Q1650,916.4 1632,916.6 L1600,916.8 A5.3,5.3 0 0 0 1600,927.2 L1632,927.4 Q1650,927.6 1656,934.0 Z" fill="#120505" stroke="#120505" stroke-width="2.4" stroke-linejoin="round"/>
<path d="M1656,944.6 Q1650,951.0 1632,951.2 L1600,951.4 A5.3,5.3 0 0 0 1600,961.8 L1632,962.0 Q1650,962.2 1656,968.6 Z" fill="#120505" stroke="#120505" stroke-width="2.4" stroke-linejoin="round"/>
<path d="M1656,975.0 Q1650,981.4 1632,981.6 L1600,981.8 A5.3,5.3 0 0 0 1600,992.2 L1632,992.4 Q1650,992.6 1656,999.0 Z" fill="#120505" stroke="#120505" stroke-width="2.4" stroke-linejoin="round"/>
<path d="M1505.5,1074.8 C1530,1074.5 1580,1068 1604,1058.5 C1630,1048 1650,1035 1654.5,1003 L1678,1003 L1678,1100 L1652,1090 C1640,1078 1650,1080 1640,1083.5 C1625,1088.5 1580,1097 1505.5,1099.2 Z" fill="#120505" stroke="#120505" stroke-width="2.4" stroke-linejoin="round"/>
<path d="M1652.0,1090.0 C1650.0,1091.8 1645.3,1097.4 1640.0,1100.8 C1634.7,1104.2 1629.0,1105.7 1620.3,1110.6 C1611.6,1115.5 1598.6,1122.4 1587.8,1130.0 C1577.0,1137.6 1566.1,1145.7 1555.3,1156.0 C1544.5,1166.3 1531.9,1180.0 1522.7,1192.0 C1513.5,1204.0 1506.5,1215.8 1500.0,1227.7 C1493.5,1239.6 1488.0,1253.2 1483.7,1263.5 C1479.4,1273.8 1476.1,1283.5 1473.9,1289.6 C1471.7,1295.7 1471.1,1298.3 1470.5,1300.0 L1517.3,1300.0 C1517.7,1298.3 1518.6,1293.5 1519.5,1289.6 C1520.4,1285.7 1520.0,1284.7 1522.7,1276.5 C1525.4,1268.3 1530.3,1253.2 1535.7,1240.7 C1541.1,1228.2 1547.7,1213.7 1555.3,1201.7 C1562.9,1189.8 1573.2,1177.7 1581.3,1169.0 C1589.4,1160.3 1594.8,1156.1 1604.0,1149.6 C1613.2,1143.1 1627.8,1134.5 1636.6,1130.0 C1645.4,1125.5 1650.1,1123.9 1657.0,1122.3 C1663.9,1120.7 1674.5,1120.6 1678.0,1120.3 L1678,1090 Z" fill="#120505" stroke="#120505" stroke-width="2.4" stroke-linejoin="round"/>
<path d="M1522.0,1199.0 C1519.3,1199.6 1511.9,1201.6 1505.6,1202.8 C1499.3,1204.0 1490.8,1205.0 1484.3,1206.3 C1477.8,1207.6 1472.4,1209.2 1466.5,1210.8 C1460.6,1212.4 1454.7,1213.7 1448.8,1215.8 C1442.9,1217.9 1436.9,1220.5 1431.0,1223.3 C1425.1,1226.1 1419.2,1229.0 1413.3,1232.6 C1407.4,1236.1 1400.7,1241.0 1395.5,1244.6 C1390.3,1248.2 1385.5,1251.9 1382.2,1254.4 C1378.9,1256.9 1376.9,1258.7 1375.8,1259.6 L1384.5,1271.6 C1385.4,1270.6 1387.2,1267.8 1389.8,1265.4 C1392.4,1263.0 1396.0,1260.4 1399.9,1257.4 C1403.8,1254.5 1408.1,1251.0 1413.3,1247.7 C1418.5,1244.5 1425.1,1240.8 1431.0,1237.9 C1436.9,1235.0 1442.9,1232.4 1448.8,1230.3 C1454.7,1228.2 1460.6,1226.9 1466.5,1225.5 C1472.4,1224.1 1479.0,1222.7 1484.3,1221.9 C1489.6,1221.2 1493.2,1220.7 1498.5,1221.0 C1503.8,1221.3 1513.1,1223.5 1516.0,1224.0 Z" fill="#120505" stroke="#120505" stroke-width="2.4" stroke-linejoin="round"/>
<path d="M1578.0,1170.5 C1581.7,1170.3 1593.0,1168.9 1600.0,1169.5 C1607.0,1170.1 1613.7,1171.2 1620.0,1174.0 C1626.3,1176.8 1632.1,1180.7 1638.0,1186.0 C1643.9,1191.3 1650.6,1199.2 1655.5,1206.0 C1660.4,1212.8 1664.6,1220.7 1667.5,1227.0 C1670.4,1233.3 1671.8,1238.2 1673.0,1244.0 C1674.2,1249.8 1674.7,1259.0 1675.0,1262.0" fill="none" stroke="#120505" stroke-width="8.6" stroke-linecap="butt" stroke-linejoin="round"/>
<path d="M1675.5,1236 L1675.5,1296" fill="none" stroke="#120505" stroke-width="10.5" stroke-linecap="butt" stroke-linejoin="round"/></g>
<g transform="translate(3351.0,0) scale(-1,1)"><path d="M1647.6,330.8 C1647.5,333.3 1647.5,340.1 1646.8,346.0 C1646.1,351.9 1645.1,359.7 1643.5,366.0 C1641.9,372.3 1639.6,378.5 1637.0,384.0 C1634.4,389.5 1631.2,394.7 1628.0,399.0 C1624.8,403.3 1619.7,408.2 1618.0,410.0" fill="none" stroke="#120505" stroke-width="20.0" stroke-linecap="round" stroke-linejoin="round"/>
<path d="M1634.0,392.0 C1632.7,393.8 1629.3,399.1 1626.0,403.0 C1622.7,406.9 1618.2,412.2 1614.0,415.5 C1609.8,418.8 1606.7,420.7 1601.0,422.5 C1595.3,424.3 1587.5,425.3 1580.0,426.5 C1572.5,427.7 1564.3,428.2 1556.0,429.5 C1547.7,430.8 1538.3,432.5 1530.0,434.5 C1521.7,436.5 1513.5,438.8 1506.0,441.5 C1498.5,444.2 1488.5,449.4 1485.0,451.0" fill="none" stroke="#120505" stroke-width="23.4" stroke-linecap="round" stroke-linejoin="round"/>
<path d="M1512.0,439.5 C1509.3,440.6 1501.3,443.6 1496.0,446.0 C1490.7,448.4 1485.0,451.0 1480.0,454.0 C1475.0,457.0 1470.4,460.2 1466.0,464.0 C1461.6,467.8 1456.8,472.7 1453.5,477.0 C1450.2,481.3 1447.9,485.7 1446.0,490.0 C1444.1,494.3 1442.8,498.8 1442.0,503.0 C1441.2,507.2 1441.2,513.0 1441.0,515.0" fill="none" stroke="#120505" stroke-width="21.6" stroke-linecap="round" stroke-linejoin="round"/>
<path d="M1638,392.8 Q1675.5,396.6 1713,392.8" fill="none" stroke="#120505" stroke-width="12.4" stroke-linecap="butt" stroke-linejoin="round"/>
<path d="M1676,396 L1676,428.5" fill="none" stroke="#120505" stroke-width="13.5" stroke-linecap="butt" stroke-linejoin="round"/>
<path d="M1488.0,536.0 C1489.4,538.7 1493.3,546.9 1496.6,552.4 C1499.8,557.9 1503.8,563.2 1507.5,569.0 C1511.2,574.8 1515.5,581.2 1518.5,587.0 C1521.5,592.8 1523.7,596.5 1525.5,604.0 C1527.3,611.5 1528.8,622.3 1529.5,632.0 C1530.2,641.7 1528.8,652.0 1530.0,662.0 C1531.2,672.0 1533.0,682.7 1536.5,692.0 C1540.0,701.3 1545.1,710.0 1551.0,718.0 C1556.9,726.0 1568.5,736.3 1572.0,740.0" fill="none" stroke="#120505" stroke-width="26.0" stroke-linecap="butt" stroke-linejoin="round"/>
<path d="M1465.7,769.2 C1469.8,766.6 1481.6,757.4 1490.0,753.5 C1498.4,749.6 1507.3,747.5 1516.0,746.0 C1524.7,744.5 1533.0,744.2 1542.0,744.5 C1551.0,744.8 1560.3,745.6 1570.0,747.5 C1579.7,749.4 1588.3,751.1 1600.0,756.0 C1611.7,760.9 1625.0,768.5 1640.0,777.0 C1655.0,785.5 1681.7,802.0 1690.0,807.0" fill="none" stroke="#120505" stroke-width="30.0" stroke-linecap="butt" stroke-linejoin="round"/>
<path d="M1490.0,806.0 C1493.5,802.8 1503.0,791.9 1511.0,787.0 C1519.0,782.1 1527.8,779.1 1538.0,776.5 C1548.2,773.9 1561.2,770.7 1572.0,771.5 C1582.8,772.3 1593.5,775.9 1603.0,781.5 C1612.5,787.1 1621.5,795.9 1629.0,805.0 C1636.5,814.1 1642.8,825.5 1648.0,836.0 C1653.2,846.5 1657.3,857.3 1660.0,868.0 C1662.7,878.7 1663.3,894.7 1664.0,900.0" fill="none" stroke="#120505" stroke-width="22.0" stroke-linecap="butt" stroke-linejoin="round"/>
<path d="M1678,788 L1560,766 L1540.0,780.0 C1543.3,780.9 1553.7,783.8 1560.0,785.5 C1566.3,787.2 1571.1,787.4 1578.0,790.0 C1584.9,792.6 1593.4,795.8 1601.2,801.2 C1609.0,806.6 1618.1,814.6 1624.8,822.5 C1631.5,830.4 1637.1,840.2 1641.4,848.5 C1645.8,856.8 1648.7,864.5 1650.9,872.2 C1653.1,880.0 1653.9,891.2 1654.5,895.0 L1654.5,1050 L1678,1105 Z" fill="#120505" stroke="#120505" stroke-width="2.4" stroke-linejoin="round"/>
<path d="M1656,886.3 Q1650,892.7 1632,892.9 L1600,893.1 A5.3,5.3 0 0 0 1600,903.5 L1632,903.7 Q1650,903.9 1656,910.3 Z" fill="#120505" stroke="#120505" stroke-width="2.4" stroke-linejoin="round"/>
<path d="M1656,910.0 Q1650,916.4 1632,916.6 L1600,916.8 A5.3,5.3 0 0 0 1600,927.2 L1632,927.4 Q1650,927.6 1656,934.0 Z" fill="#120505" stroke="#120505" stroke-width="2.4" stroke-linejoin="round"/>
<path d="M1656,944.6 Q1650,951.0 1632,951.2 L1600,951.4 A5.3,5.3 0 0 0 1600,961.8 L1632,962.0 Q1650,962.2 1656,968.6 Z" fill="#120505" stroke="#120505" stroke-width="2.4" stroke-linejoin="round"/>
<path d="M1656,975.0 Q1650,981.4 1632,981.6 L1600,981.8 A5.3,5.3 0 0 0 1600,992.2 L1632,992.4 Q1650,992.6 1656,999.0 Z" fill="#120505" stroke="#120505" stroke-width="2.4" stroke-linejoin="round"/>
<path d="M1505.5,1074.8 C1530,1074.5 1580,1068 1604,1058.5 C1630,1048 1650,1035 1654.5,1003 L1678,1003 L1678,1100 L1652,1090 C1640,1078 1650,1080 1640,1083.5 C1625,1088.5 1580,1097 1505.5,1099.2 Z" fill="#120505" stroke="#120505" stroke-width="2.4" stroke-linejoin="round"/>
<path d="M1652.0,1090.0 C1650.0,1091.8 1645.3,1097.4 1640.0,1100.8 C1634.7,1104.2 1629.0,1105.7 1620.3,1110.6 C1611.6,1115.5 1598.6,1122.4 1587.8,1130.0 C1577.0,1137.6 1566.1,1145.7 1555.3,1156.0 C1544.5,1166.3 1531.9,1180.0 1522.7,1192.0 C1513.5,1204.0 1506.5,1215.8 1500.0,1227.7 C1493.5,1239.6 1488.0,1253.2 1483.7,1263.5 C1479.4,1273.8 1476.1,1283.5 1473.9,1289.6 C1471.7,1295.7 1471.1,1298.3 1470.5,1300.0 L1517.3,1300.0 C1517.7,1298.3 1518.6,1293.5 1519.5,1289.6 C1520.4,1285.7 1520.0,1284.7 1522.7,1276.5 C1525.4,1268.3 1530.3,1253.2 1535.7,1240.7 C1541.1,1228.2 1547.7,1213.7 1555.3,1201.7 C1562.9,1189.8 1573.2,1177.7 1581.3,1169.0 C1589.4,1160.3 1594.8,1156.1 1604.0,1149.6 C1613.2,1143.1 1627.8,1134.5 1636.6,1130.0 C1645.4,1125.5 1650.1,1123.9 1657.0,1122.3 C1663.9,1120.7 1674.5,1120.6 1678.0,1120.3 L1678,1090 Z" fill="#120505" stroke="#120505" stroke-width="2.4" stroke-linejoin="round"/>
<path d="M1522.0,1199.0 C1519.3,1199.6 1511.9,1201.6 1505.6,1202.8 C1499.3,1204.0 1490.8,1205.0 1484.3,1206.3 C1477.8,1207.6 1472.4,1209.2 1466.5,1210.8 C1460.6,1212.4 1454.7,1213.7 1448.8,1215.8 C1442.9,1217.9 1436.9,1220.5 1431.0,1223.3 C1425.1,1226.1 1419.2,1229.0 1413.3,1232.6 C1407.4,1236.1 1400.7,1241.0 1395.5,1244.6 C1390.3,1248.2 1385.5,1251.9 1382.2,1254.4 C1378.9,1256.9 1376.9,1258.7 1375.8,1259.6 L1384.5,1271.6 C1385.4,1270.6 1387.2,1267.8 1389.8,1265.4 C1392.4,1263.0 1396.0,1260.4 1399.9,1257.4 C1403.8,1254.5 1408.1,1251.0 1413.3,1247.7 C1418.5,1244.5 1425.1,1240.8 1431.0,1237.9 C1436.9,1235.0 1442.9,1232.4 1448.8,1230.3 C1454.7,1228.2 1460.6,1226.9 1466.5,1225.5 C1472.4,1224.1 1479.0,1222.7 1484.3,1221.9 C1489.6,1221.2 1493.2,1220.7 1498.5,1221.0 C1503.8,1221.3 1513.1,1223.5 1516.0,1224.0 Z" fill="#120505" stroke="#120505" stroke-width="2.4" stroke-linejoin="round"/>
<path d="M1578.0,1170.5 C1581.7,1170.3 1593.0,1168.9 1600.0,1169.5 C1607.0,1170.1 1613.7,1171.2 1620.0,1174.0 C1626.3,1176.8 1632.1,1180.7 1638.0,1186.0 C1643.9,1191.3 1650.6,1199.2 1655.5,1206.0 C1660.4,1212.8 1664.6,1220.7 1667.5,1227.0 C1670.4,1233.3 1671.8,1238.2 1673.0,1244.0 C1674.2,1249.8 1674.7,1259.0 1675.0,1262.0" fill="none" stroke="#120505" stroke-width="8.6" stroke-linecap="butt" stroke-linejoin="round"/>
<path d="M1675.5,1236 L1675.5,1296" fill="none" stroke="#120505" stroke-width="10.5" stroke-linecap="butt" stroke-linejoin="round"/></g>
<g><path d="M1647.6,330.8 C1647.5,333.3 1647.5,340.1 1646.8,346.0 C1646.1,351.9 1645.1,359.7 1643.5,366.0 C1641.9,372.3 1639.6,378.5 1637.0,384.0 C1634.4,389.5 1631.2,394.7 1628.0,399.0 C1624.8,403.3 1619.7,408.2 1618.0,410.0" fill="none" stroke="#e8505b" stroke-width="15.2" stroke-linecap="round" stroke-linejoin="round"/>
<path d="M1634.0,392.0 C1632.7,393.8 1629.3,399.1 1626.0,403.0 C1622.7,406.9 1618.2,412.2 1614.0,415.5 C1609.8,418.8 1606.7,420.7 1601.0,422.5 C1595.3,424.3 1587.5,425.3 1580.0,426.5 C1572.5,427.7 1564.3,428.2 1556.0,429.5 C1547.7,430.8 1538.3,432.5 1530.0,434.5 C1521.7,436.5 1513.5,438.8 1506.0,441.5 C1498.5,444.2 1488.5,449.4 1485.0,451.0" fill="none" stroke="#e8505b" stroke-width="18.6" stroke-linecap="round" stroke-linejoin="round"/>
<path d="M1512.0,439.5 C1509.3,440.6 1501.3,443.6 1496.0,446.0 C1490.7,448.4 1485.0,451.0 1480.0,454.0 C1475.0,457.0 1470.4,460.2 1466.0,464.0 C1461.6,467.8 1456.8,472.7 1453.5,477.0 C1450.2,481.3 1447.9,485.7 1446.0,490.0 C1444.1,494.3 1442.8,498.8 1442.0,503.0 C1441.2,507.2 1441.2,513.0 1441.0,515.0" fill="none" stroke="#e8505b" stroke-width="16.8" stroke-linecap="round" stroke-linejoin="round"/>
<path d="M1638,392.8 Q1675.5,396.6 1713,392.8" fill="none" stroke="#e8505b" stroke-width="7.6" stroke-linecap="butt" stroke-linejoin="round"/>
<path d="M1676,396 L1676,428.5" fill="none" stroke="#e8505b" stroke-width="8.7" stroke-linecap="butt" stroke-linejoin="round"/>
<path d="M1488.0,536.0 C1489.4,538.7 1493.3,546.9 1496.6,552.4 C1499.8,557.9 1503.8,563.2 1507.5,569.0 C1511.2,574.8 1515.5,581.2 1518.5,587.0 C1521.5,592.8 1523.7,596.5 1525.5,604.0 C1527.3,611.5 1528.8,622.3 1529.5,632.0 C1530.2,641.7 1528.8,652.0 1530.0,662.0 C1531.2,672.0 1533.0,682.7 1536.5,692.0 C1540.0,701.3 1545.1,710.0 1551.0,718.0 C1556.9,726.0 1568.5,736.3 1572.0,740.0" fill="none" stroke="#e8505b" stroke-width="21.2" stroke-linecap="butt" stroke-linejoin="round"/>
<path d="M1465.7,769.2 C1469.8,766.6 1481.6,757.4 1490.0,753.5 C1498.4,749.6 1507.3,747.5 1516.0,746.0 C1524.7,744.5 1533.0,744.2 1542.0,744.5 C1551.0,744.8 1560.3,745.6 1570.0,747.5 C1579.7,749.4 1588.3,751.1 1600.0,756.0 C1611.7,760.9 1625.0,768.5 1640.0,777.0 C1655.0,785.5 1681.7,802.0 1690.0,807.0" fill="none" stroke="#e8505b" stroke-width="25.2" stroke-linecap="butt" stroke-linejoin="round"/>
<path d="M1490.0,806.0 C1493.5,802.8 1503.0,791.9 1511.0,787.0 C1519.0,782.1 1527.8,779.1 1538.0,776.5 C1548.2,773.9 1561.2,770.7 1572.0,771.5 C1582.8,772.3 1593.5,775.9 1603.0,781.5 C1612.5,787.1 1621.5,795.9 1629.0,805.0 C1636.5,814.1 1642.8,825.5 1648.0,836.0 C1653.2,846.5 1657.3,857.3 1660.0,868.0 C1662.7,878.7 1663.3,894.7 1664.0,900.0" fill="none" stroke="#e8505b" stroke-width="17.2" stroke-linecap="butt" stroke-linejoin="round"/>
<path d="M1678,788 L1560,766 L1540.0,780.0 C1543.3,780.9 1553.7,783.8 1560.0,785.5 C1566.3,787.2 1571.1,787.4 1578.0,790.0 C1584.9,792.6 1593.4,795.8 1601.2,801.2 C1609.0,806.6 1618.1,814.6 1624.8,822.5 C1631.5,830.4 1637.1,840.2 1641.4,848.5 C1645.8,856.8 1648.7,864.5 1650.9,872.2 C1653.1,880.0 1653.9,891.2 1654.5,895.0 L1654.5,1050 L1678,1105 Z" fill="#e8505b"/>
<path d="M1656,886.3 Q1650,892.7 1632,892.9 L1600,893.1 A5.3,5.3 0 0 0 1600,903.5 L1632,903.7 Q1650,903.9 1656,910.3 Z" fill="#e8505b"/>
<path d="M1656,910.0 Q1650,916.4 1632,916.6 L1600,916.8 A5.3,5.3 0 0 0 1600,927.2 L1632,927.4 Q1650,927.6 1656,934.0 Z" fill="#e8505b"/>
<path d="M1656,944.6 Q1650,951.0 1632,951.2 L1600,951.4 A5.3,5.3 0 0 0 1600,961.8 L1632,962.0 Q1650,962.2 1656,968.6 Z" fill="#e8505b"/>
<path d="M1656,975.0 Q1650,981.4 1632,981.6 L1600,981.8 A5.3,5.3 0 0 0 1600,992.2 L1632,992.4 Q1650,992.6 1656,999.0 Z" fill="#e8505b"/>
<path d="M1505.5,1074.8 C1530,1074.5 1580,1068 1604,1058.5 C1630,1048 1650,1035 1654.5,1003 L1678,1003 L1678,1100 L1652,1090 C1640,1078 1650,1080 1640,1083.5 C1625,1088.5 1580,1097 1505.5,1099.2 Z" fill="#e8505b"/>
<path d="M1652.0,1090.0 C1650.0,1091.8 1645.3,1097.4 1640.0,1100.8 C1634.7,1104.2 1629.0,1105.7 1620.3,1110.6 C1611.6,1115.5 1598.6,1122.4 1587.8,1130.0 C1577.0,1137.6 1566.1,1145.7 1555.3,1156.0 C1544.5,1166.3 1531.9,1180.0 1522.7,1192.0 C1513.5,1204.0 1506.5,1215.8 1500.0,1227.7 C1493.5,1239.6 1488.0,1253.2 1483.7,1263.5 C1479.4,1273.8 1476.1,1283.5 1473.9,1289.6 C1471.7,1295.7 1471.1,1298.3 1470.5,1300.0 L1517.3,1300.0 C1517.7,1298.3 1518.6,1293.5 1519.5,1289.6 C1520.4,1285.7 1520.0,1284.7 1522.7,1276.5 C1525.4,1268.3 1530.3,1253.2 1535.7,1240.7 C1541.1,1228.2 1547.7,1213.7 1555.3,1201.7 C1562.9,1189.8 1573.2,1177.7 1581.3,1169.0 C1589.4,1160.3 1594.8,1156.1 1604.0,1149.6 C1613.2,1143.1 1627.8,1134.5 1636.6,1130.0 C1645.4,1125.5 1650.1,1123.9 1657.0,1122.3 C1663.9,1120.7 1674.5,1120.6 1678.0,1120.3 L1678,1090 Z" fill="#e8505b"/>
<path d="M1522.0,1199.0 C1519.3,1199.6 1511.9,1201.6 1505.6,1202.8 C1499.3,1204.0 1490.8,1205.0 1484.3,1206.3 C1477.8,1207.6 1472.4,1209.2 1466.5,1210.8 C1460.6,1212.4 1454.7,1213.7 1448.8,1215.8 C1442.9,1217.9 1436.9,1220.5 1431.0,1223.3 C1425.1,1226.1 1419.2,1229.0 1413.3,1232.6 C1407.4,1236.1 1400.7,1241.0 1395.5,1244.6 C1390.3,1248.2 1385.5,1251.9 1382.2,1254.4 C1378.9,1256.9 1376.9,1258.7 1375.8,1259.6 L1384.5,1271.6 C1385.4,1270.6 1387.2,1267.8 1389.8,1265.4 C1392.4,1263.0 1396.0,1260.4 1399.9,1257.4 C1403.8,1254.5 1408.1,1251.0 1413.3,1247.7 C1418.5,1244.5 1425.1,1240.8 1431.0,1237.9 C1436.9,1235.0 1442.9,1232.4 1448.8,1230.3 C1454.7,1228.2 1460.6,1226.9 1466.5,1225.5 C1472.4,1224.1 1479.0,1222.7 1484.3,1221.9 C1489.6,1221.2 1493.2,1220.7 1498.5,1221.0 C1503.8,1221.3 1513.1,1223.5 1516.0,1224.0 Z" fill="#e8505b"/>
<path d="M1578.0,1170.5 C1581.7,1170.3 1593.0,1168.9 1600.0,1169.5 C1607.0,1170.1 1613.7,1171.2 1620.0,1174.0 C1626.3,1176.8 1632.1,1180.7 1638.0,1186.0 C1643.9,1191.3 1650.6,1199.2 1655.5,1206.0 C1660.4,1212.8 1664.6,1220.7 1667.5,1227.0 C1670.4,1233.3 1671.8,1238.2 1673.0,1244.0 C1674.2,1249.8 1674.7,1259.0 1675.0,1262.0" fill="none" stroke="#e8505b" stroke-width="3.8" stroke-linecap="butt" stroke-linejoin="round"/>
<path d="M1675.5,1236 L1675.5,1296" fill="none" stroke="#e8505b" stroke-width="5.7" stroke-linecap="butt" stroke-linejoin="round"/></g>
<g transform="translate(3351.0,0) scale(-1,1)"><path d="M1647.6,330.8 C1647.5,333.3 1647.5,340.1 1646.8,346.0 C1646.1,351.9 1645.1,359.7 1643.5,366.0 C1641.9,372.3 1639.6,378.5 1637.0,384.0 C1634.4,389.5 1631.2,394.7 1628.0,399.0 C1624.8,403.3 1619.7,408.2 1618.0,410.0" fill="none" stroke="#e8505b" stroke-width="15.2" stroke-linecap="round" stroke-linejoin="round"/>
<path d="M1634.0,392.0 C1632.7,393.8 1629.3,399.1 1626.0,403.0 C1622.7,406.9 1618.2,412.2 1614.0,415.5 C1609.8,418.8 1606.7,420.7 1601.0,422.5 C1595.3,424.3 1587.5,425.3 1580.0,426.5 C1572.5,427.7 1564.3,428.2 1556.0,429.5 C1547.7,430.8 1538.3,432.5 1530.0,434.5 C1521.7,436.5 1513.5,438.8 1506.0,441.5 C1498.5,444.2 1488.5,449.4 1485.0,451.0" fill="none" stroke="#e8505b" stroke-width="18.6" stroke-linecap="round" stroke-linejoin="round"/>
<path d="M1512.0,439.5 C1509.3,440.6 1501.3,443.6 1496.0,446.0 C1490.7,448.4 1485.0,451.0 1480.0,454.0 C1475.0,457.0 1470.4,460.2 1466.0,464.0 C1461.6,467.8 1456.8,472.7 1453.5,477.0 C1450.2,481.3 1447.9,485.7 1446.0,490.0 C1444.1,494.3 1442.8,498.8 1442.0,503.0 C1441.2,507.2 1441.2,513.0 1441.0,515.0" fill="none" stroke="#e8505b" stroke-width="16.8" stroke-linecap="round" stroke-linejoin="round"/>
<path d="M1638,392.8 Q1675.5,396.6 1713,392.8" fill="none" stroke="#e8505b" stroke-width="7.6" stroke-linecap="butt" stroke-linejoin="round"/>
<path d="M1676,396 L1676,428.5" fill="none" stroke="#e8505b" stroke-width="8.7" stroke-linecap="butt" stroke-linejoin="round"/>
<path d="M1488.0,536.0 C1489.4,538.7 1493.3,546.9 1496.6,552.4 C1499.8,557.9 1503.8,563.2 1507.5,569.0 C1511.2,574.8 1515.5,581.2 1518.5,587.0 C1521.5,592.8 1523.7,596.5 1525.5,604.0 C1527.3,611.5 1528.8,622.3 1529.5,632.0 C1530.2,641.7 1528.8,652.0 1530.0,662.0 C1531.2,672.0 1533.0,682.7 1536.5,692.0 C1540.0,701.3 1545.1,710.0 1551.0,718.0 C1556.9,726.0 1568.5,736.3 1572.0,740.0" fill="none" stroke="#e8505b" stroke-width="21.2" stroke-linecap="butt" stroke-linejoin="round"/>
<path d="M1465.7,769.2 C1469.8,766.6 1481.6,757.4 1490.0,753.5 C1498.4,749.6 1507.3,747.5 1516.0,746.0 C1524.7,744.5 1533.0,744.2 1542.0,744.5 C1551.0,744.8 1560.3,745.6 1570.0,747.5 C1579.7,749.4 1588.3,751.1 1600.0,756.0 C1611.7,760.9 1625.0,768.5 1640.0,777.0 C1655.0,785.5 1681.7,802.0 1690.0,807.0" fill="none" stroke="#e8505b" stroke-width="25.2" stroke-linecap="butt" stroke-linejoin="round"/>
<path d="M1490.0,806.0 C1493.5,802.8 1503.0,791.9 1511.0,787.0 C1519.0,782.1 1527.8,779.1 1538.0,776.5 C1548.2,773.9 1561.2,770.7 1572.0,771.5 C1582.8,772.3 1593.5,775.9 1603.0,781.5 C1612.5,787.1 1621.5,795.9 1629.0,805.0 C1636.5,814.1 1642.8,825.5 1648.0,836.0 C1653.2,846.5 1657.3,857.3 1660.0,868.0 C1662.7,878.7 1663.3,894.7 1664.0,900.0" fill="none" stroke="#e8505b" stroke-width="17.2" stroke-linecap="butt" stroke-linejoin="round"/>
<path d="M1678,788 L1560,766 L1540.0,780.0 C1543.3,780.9 1553.7,783.8 1560.0,785.5 C1566.3,787.2 1571.1,787.4 1578.0,790.0 C1584.9,792.6 1593.4,795.8 1601.2,801.2 C1609.0,806.6 1618.1,814.6 1624.8,822.5 C1631.5,830.4 1637.1,840.2 1641.4,848.5 C1645.8,856.8 1648.7,864.5 1650.9,872.2 C1653.1,880.0 1653.9,891.2 1654.5,895.0 L1654.5,1050 L1678,1105 Z" fill="#e8505b"/>
<path d="M1656,886.3 Q1650,892.7 1632,892.9 L1600,893.1 A5.3,5.3 0 0 0 1600,903.5 L1632,903.7 Q1650,903.9 1656,910.3 Z" fill="#e8505b"/>
<path d="M1656,910.0 Q1650,916.4 1632,916.6 L1600,916.8 A5.3,5.3 0 0 0 1600,927.2 L1632,927.4 Q1650,927.6 1656,934.0 Z" fill="#e8505b"/>
<path d="M1656,944.6 Q1650,951.0 1632,951.2 L1600,951.4 A5.3,5.3 0 0 0 1600,961.8 L1632,962.0 Q1650,962.2 1656,968.6 Z" fill="#e8505b"/>
<path d="M1656,975.0 Q1650,981.4 1632,981.6 L1600,981.8 A5.3,5.3 0 0 0 1600,992.2 L1632,992.4 Q1650,992.6 1656,999.0 Z" fill="#e8505b"/>
<path d="M1505.5,1074.8 C1530,1074.5 1580,1068 1604,1058.5 C1630,1048 1650,1035 1654.5,1003 L1678,1003 L1678,1100 L1652,1090 C1640,1078 1650,1080 1640,1083.5 C1625,1088.5 1580,1097 1505.5,1099.2 Z" fill="#e8505b"/>
<path d="M1652.0,1090.0 C1650.0,1091.8 1645.3,1097.4 1640.0,1100.8 C1634.7,1104.2 1629.0,1105.7 1620.3,1110.6 C1611.6,1115.5 1598.6,1122.4 1587.8,1130.0 C1577.0,1137.6 1566.1,1145.7 1555.3,1156.0 C1544.5,1166.3 1531.9,1180.0 1522.7,1192.0 C1513.5,1204.0 1506.5,1215.8 1500.0,1227.7 C1493.5,1239.6 1488.0,1253.2 1483.7,1263.5 C1479.4,1273.8 1476.1,1283.5 1473.9,1289.6 C1471.7,1295.7 1471.1,1298.3 1470.5,1300.0 L1517.3,1300.0 C1517.7,1298.3 1518.6,1293.5 1519.5,1289.6 C1520.4,1285.7 1520.0,1284.7 1522.7,1276.5 C1525.4,1268.3 1530.3,1253.2 1535.7,1240.7 C1541.1,1228.2 1547.7,1213.7 1555.3,1201.7 C1562.9,1189.8 1573.2,1177.7 1581.3,1169.0 C1589.4,1160.3 1594.8,1156.1 1604.0,1149.6 C1613.2,1143.1 1627.8,1134.5 1636.6,1130.0 C1645.4,1125.5 1650.1,1123.9 1657.0,1122.3 C1663.9,1120.7 1674.5,1120.6 1678.0,1120.3 L1678,1090 Z" fill="#e8505b"/>
<path d="M1522.0,1199.0 C1519.3,1199.6 1511.9,1201.6 1505.6,1202.8 C1499.3,1204.0 1490.8,1205.0 1484.3,1206.3 C1477.8,1207.6 1472.4,1209.2 1466.5,1210.8 C1460.6,1212.4 1454.7,1213.7 1448.8,1215.8 C1442.9,1217.9 1436.9,1220.5 1431.0,1223.3 C1425.1,1226.1 1419.2,1229.0 1413.3,1232.6 C1407.4,1236.1 1400.7,1241.0 1395.5,1244.6 C1390.3,1248.2 1385.5,1251.9 1382.2,1254.4 C1378.9,1256.9 1376.9,1258.7 1375.8,1259.6 L1384.5,1271.6 C1385.4,1270.6 1387.2,1267.8 1389.8,1265.4 C1392.4,1263.0 1396.0,1260.4 1399.9,1257.4 C1403.8,1254.5 1408.1,1251.0 1413.3,1247.7 C1418.5,1244.5 1425.1,1240.8 1431.0,1237.9 C1436.9,1235.0 1442.9,1232.4 1448.8,1230.3 C1454.7,1228.2 1460.6,1226.9 1466.5,1225.5 C1472.4,1224.1 1479.0,1222.7 1484.3,1221.9 C1489.6,1221.2 1493.2,1220.7 1498.5,1221.0 C1503.8,1221.3 1513.1,1223.5 1516.0,1224.0 Z" fill="#e8505b"/>
<path d="M1578.0,1170.5 C1581.7,1170.3 1593.0,1168.9 1600.0,1169.5 C1607.0,1170.1 1613.7,1171.2 1620.0,1174.0 C1626.3,1176.8 1632.1,1180.7 1638.0,1186.0 C1643.9,1191.3 1650.6,1199.2 1655.5,1206.0 C1660.4,1212.8 1664.6,1220.7 1667.5,1227.0 C1670.4,1233.3 1671.8,1238.2 1673.0,1244.0 C1674.2,1249.8 1674.7,1259.0 1675.0,1262.0" fill="none" stroke="#e8505b" stroke-width="3.8" stroke-linecap="butt" stroke-linejoin="round"/>
<path d="M1675.5,1236 L1675.5,1296" fill="none" stroke="#e8505b" stroke-width="5.7" stroke-linecap="butt" stroke-linejoin="round"/></g>
</g>
<g><circle cx="1647.8" cy="330.4" r="9.0" fill="#f6a999" stroke="#120505" stroke-width="2"/></g>
<g transform="translate(3351.0,0) scale(-1,1)"><circle cx="1647.8" cy="330.4" r="9.0" fill="#f6a999" stroke="#120505" stroke-width="2"/></g>
<path d="M1676,406 L1676,429.5" stroke="#2a0709" stroke-width="7.5"/>
<g><path d="M1527.0,506.0 C1527.4,504.5 1528.2,500.0 1529.5,497.0 C1530.8,494.0 1532.6,490.8 1535.0,488.0 C1537.4,485.2 1540.8,482.1 1544.0,480.0 C1547.2,477.9 1552.8,476.2 1554.5,475.5" fill="none" stroke="#120505" stroke-width="7.5" stroke-linecap="round" stroke-linejoin="round"/></g>
<g transform="translate(3351.0,0) scale(-1,1)"><path d="M1527.0,506.0 C1527.4,504.5 1528.2,500.0 1529.5,497.0 C1530.8,494.0 1532.6,490.8 1535.0,488.0 C1537.4,485.2 1540.8,482.1 1544.0,480.0 C1547.2,477.9 1552.8,476.2 1554.5,475.5" fill="none" stroke="#120505" stroke-width="7.5" stroke-linecap="round" stroke-linejoin="round"/></g>
<g><path d="M1527.0,506.0 C1527.4,504.5 1528.2,500.0 1529.5,497.0 C1530.8,494.0 1532.6,490.8 1535.0,488.0 C1537.4,485.2 1540.8,482.1 1544.0,480.0 C1547.2,477.9 1552.8,476.2 1554.5,475.5" fill="none" stroke="#e8505b" stroke-width="2.7" stroke-linecap="round" stroke-linejoin="round"/></g>
<g transform="translate(3351.0,0) scale(-1,1)"><path d="M1527.0,506.0 C1527.4,504.5 1528.2,500.0 1529.5,497.0 C1530.8,494.0 1532.6,490.8 1535.0,488.0 C1537.4,485.2 1540.8,482.1 1544.0,480.0 C1547.2,477.9 1552.8,476.2 1554.5,475.5" fill="none" stroke="#e8505b" stroke-width="2.7" stroke-linecap="round" stroke-linejoin="round"/></g>
<g><circle cx="1554.5" cy="476" r="2.6" fill="#fbe0dc" stroke="#120505" stroke-width="1.2"/></g>
<g transform="translate(3351.0,0) scale(-1,1)"><circle cx="1554.5" cy="476" r="2.6" fill="#fbe0dc" stroke="#120505" stroke-width="1.2"/></g>
<g><path d="M1399.5,487.9 C1420,489.5 1440,493 1453.4,496.8 C1470,501.5 1488,505 1504.3,505.1 C1522,505 1540,501 1552,496.5 L1566,496 L1572,529.5 C1560,533 1535,538 1510.2,538.2 C1495,538.3 1485,537 1478.2,534.7 L1461.7,537 C1455,533 1445,527.5 1433.3,525.2 C1420,522.8 1400,521.8 1389.5,521.7 Z" fill="#120505" stroke="#120505" stroke-width="2.4" stroke-linejoin="round"/>
<path d="M1470.0,530.0 C1470.2,533.2 1471.6,543.6 1471.3,549.0 C1471.0,554.4 1469.8,558.7 1468.0,562.5 C1466.2,566.3 1463.3,569.7 1460.5,572.0 C1457.7,574.3 1453.4,575.4 1451.0,576.5 C1448.6,577.6 1446.8,578.2 1446.0,578.5" fill="none" stroke="#120505" stroke-width="14.5" stroke-linecap="butt" stroke-linejoin="round"/></g>
<g transform="translate(3351.0,0) scale(-1,1)"><path d="M1399.5,487.9 C1420,489.5 1440,493 1453.4,496.8 C1470,501.5 1488,505 1504.3,505.1 C1522,505 1540,501 1552,496.5 L1566,496 L1572,529.5 C1560,533 1535,538 1510.2,538.2 C1495,538.3 1485,537 1478.2,534.7 L1461.7,537 C1455,533 1445,527.5 1433.3,525.2 C1420,522.8 1400,521.8 1389.5,521.7 Z" fill="#120505" stroke="#120505" stroke-width="2.4" stroke-linejoin="round"/>
<path d="M1470.0,530.0 C1470.2,533.2 1471.6,543.6 1471.3,549.0 C1471.0,554.4 1469.8,558.7 1468.0,562.5 C1466.2,566.3 1463.3,569.7 1460.5,572.0 C1457.7,574.3 1453.4,575.4 1451.0,576.5 C1448.6,577.6 1446.8,578.2 1446.0,578.5" fill="none" stroke="#120505" stroke-width="14.5" stroke-linecap="butt" stroke-linejoin="round"/></g>
<g><path d="M1399.5,487.9 C1420,489.5 1440,493 1453.4,496.8 C1470,501.5 1488,505 1504.3,505.1 C1522,505 1540,501 1552,496.5 L1566,496 L1572,529.5 C1560,533 1535,538 1510.2,538.2 C1495,538.3 1485,537 1478.2,534.7 L1461.7,537 C1455,533 1445,527.5 1433.3,525.2 C1420,522.8 1400,521.8 1389.5,521.7 Z" fill="#e8505b"/>
<path d="M1470.0,530.0 C1470.2,533.2 1471.6,543.6 1471.3,549.0 C1471.0,554.4 1469.8,558.7 1468.0,562.5 C1466.2,566.3 1463.3,569.7 1460.5,572.0 C1457.7,574.3 1453.4,575.4 1451.0,576.5 C1448.6,577.6 1446.8,578.2 1446.0,578.5" fill="none" stroke="#e8505b" stroke-width="9.7" stroke-linecap="butt" stroke-linejoin="round"/></g>
<g transform="translate(3351.0,0) scale(-1,1)"><path d="M1399.5,487.9 C1420,489.5 1440,493 1453.4,496.8 C1470,501.5 1488,505 1504.3,505.1 C1522,505 1540,501 1552,496.5 L1566,496 L1572,529.5 C1560,533 1535,538 1510.2,538.2 C1495,538.3 1485,537 1478.2,534.7 L1461.7,537 C1455,533 1445,527.5 1433.3,525.2 C1420,522.8 1400,521.8 1389.5,521.7 Z" fill="#e8505b"/>
<path d="M1470.0,530.0 C1470.2,533.2 1471.6,543.6 1471.3,549.0 C1471.0,554.4 1469.8,558.7 1468.0,562.5 C1466.2,566.3 1463.3,569.7 1460.5,572.0 C1457.7,574.3 1453.4,575.4 1451.0,576.5 C1448.6,577.6 1446.8,578.2 1446.0,578.5" fill="none" stroke="#e8505b" stroke-width="9.7" stroke-linecap="butt" stroke-linejoin="round"/></g>
<g><path d="M1400.6,488 L1390.5,521.7" stroke="#e8505b" stroke-width="3.4"/></g>
<g transform="translate(3351.0,0) scale(-1,1)"><path d="M1400.6,488 L1390.5,521.7" stroke="#e8505b" stroke-width="3.4"/></g>
<g><path d="M1462,525.5 C1490,523 1520,520 1541,517.5" stroke="#b83040" stroke-width="1.6" fill="none"/></g>
<g transform="translate(3351.0,0) scale(-1,1)"><path d="M1462,525.5 C1490,523 1520,520 1541,517.5" stroke="#b83040" stroke-width="1.6" fill="none"/></g>
<g><circle cx="1564.6" cy="512.8" r="16.6" fill="#f6a999" stroke="#120505" stroke-width="2.2"/></g>
<g transform="translate(3351.0,0) scale(-1,1)"><circle cx="1564.6" cy="512.8" r="16.6" fill="#f6a999" stroke="#120505" stroke-width="2.2"/></g>
<g><circle cx="1445.7" cy="578.7" r="5.6" fill="#f6a999" stroke="#120505" stroke-width="1.8"/></g>
<g transform="translate(3351.0,0) scale(-1,1)"><circle cx="1445.7" cy="578.7" r="5.6" fill="#f6a999" stroke="#120505" stroke-width="1.8"/></g>
<path d="M1565.0,374.5 L1631.3,386.7" stroke="#1e1e1e" stroke-width="3.0" fill="none"/><path d="M1649.0,390.0 L1629.4,397.1 L1633.2,376.4 Z" fill="#0c0c0c"/>
<path d="M1818.0,344.7 L1751.5,344.7" stroke="#1e1e1e" stroke-width="3.0" fill="none"/><path d="M1733.5,344.7 L1751.5,334.2 L1751.5,355.2 Z" fill="#0c0c0c"/>
<path d="M1978.0,460.0 L1815.9,474.1" stroke="#1e1e1e" stroke-width="3.0" fill="none"/><path d="M1798.0,475.7 L1815.0,463.7 L1816.8,484.6 Z" fill="#0c0c0c"/>
<path d="M2040.0,503.3 L1973.6,503.3" stroke="#1e1e1e" stroke-width="3.0" fill="none"/><path d="M1955.6,503.3 L1973.6,492.8 L1973.6,513.8 Z" fill="#0c0c0c"/>
<path d="M1378.0,530.5 L1539.0,517.5" stroke="#1e1e1e" stroke-width="2.5" fill="none"/><path d="M1554.0,516.3 L1539.7,526.0 L1538.4,509.0 Z" fill="#0c0c0c"/>
<path d="M1362.5,619.0 L1424.8,588.8" stroke="#1e1e1e" stroke-width="3.0" fill="none"/><path d="M1441.0,581.0 L1429.4,598.3 L1420.2,579.4 Z" fill="#0c0c0c"/>
<path d="M1933.0,650.0 L1866.7,650.0" stroke="#1e1e1e" stroke-width="3.0" fill="none"/><path d="M1848.7,650.0 L1866.7,639.5 L1866.7,660.5 Z" fill="#0c0c0c"/>
<path d="M1975.0,763.7 L1909.0,763.7" stroke="#1e1e1e" stroke-width="3.0" fill="none"/><path d="M1891.0,763.7 L1909.0,753.2 L1909.0,774.2 Z" fill="#0c0c0c"/>
<path d="M1950.0,807.0 L1883.6,807.0" stroke="#1e1e1e" stroke-width="3.0" fill="none"/><path d="M1865.6,807.0 L1883.6,796.5 L1883.6,817.5 Z" fill="#0c0c0c"/>
<path d="M1771.6,939.0 L1705.0,939.0" stroke="#1e1e1e" stroke-width="3.0" fill="none"/><path d="M1687.0,939.0 L1705.0,928.5 L1705.0,949.5 Z" fill="#0c0c0c"/>
<path d="M1941.0,1085.2 L1873.3,1085.2" stroke="#1e1e1e" stroke-width="3.0" fill="none"/><path d="M1855.3,1085.2 L1873.3,1074.7 L1873.3,1095.7 Z" fill="#0c0c0c"/>
<path d="M1418.5,1183.0 L1487.0,1183.0" stroke="#1e1e1e" stroke-width="3.0" fill="none"/><path d="M1505.0,1183.0 L1487.0,1193.5 L1487.0,1172.5 Z" fill="#0c0c0c"/>
<path d="M1342.5,1264.5 L1637.5,1264.5" stroke="#1e1e1e" stroke-width="3.0" fill="none"/><path d="M1655.5,1264.5 L1637.5,1275.0 L1637.5,1254.0 Z" fill="#0c0c0c"/>
<path d="M1485.5,1264.5 L1530.5,1264.5" stroke="#b23c46" stroke-width="3.2" fill="none"/>
<path d="M2034.5,1240.5 L1967.0,1240.5" stroke="#1e1e1e" stroke-width="3.0" fill="none"/><path d="M1949.0,1240.5 L1967.0,1230.0 L1967.0,1251.0 Z" fill="#0c0c0c"/>
<path d="M1487.0,939.0 L1575.7,939.0" stroke="#1e1e1e" stroke-width="2.6" fill="none"/>
<path d="M1588,881 H1575.7 V1001.5 H1588" stroke="#1e1e1e" stroke-width="2.6" fill="none"/>
<text x="1456.0" y="336.8" class="rb" text-anchor="middle">Anterior</text>
<text x="1455.0" y="372.5" class="rb" text-anchor="middle">Communicating</text>
<text x="1456.0" y="407.4" class="rb" text-anchor="middle">Artery</text>
<text x="1830.0" y="355.6" class="rb" text-anchor="start">Anterior Cerebral Artery</text>
<text x="1987.5" y="469.2" class="rb" text-anchor="start">Ophthalmic Artery</text>
<text x="2050.5" y="513.1" class="rb" text-anchor="start">Middle Cerebral Artery</text>
<text x="1092.5" y="546.8" class="rb" text-anchor="start">Internal Carotid Artery</text>
<text x="1169.0" y="647.5" class="rb" text-anchor="start">Anterior Choroidal Artery</text>
<text x="1940.5" y="660.5" class="rb" text-anchor="start">Posterior Communicating Artery</text>
<text x="1985.0" y="775.3" class="rb" text-anchor="start">Posterior Cerebral Artery</text>
<text x="1961.0" y="816.4" class="rb" text-anchor="start">Superior Cerebellar Artery</text>
<text x="1282.0" y="947.4" class="rb" text-anchor="start">Pontine Arteries</text>
<text x="1782.5" y="947.4" class="rb" text-anchor="start">Basilar Artery</text>
<text x="1951.0" y="1094.8" class="rb" text-anchor="start">Anterior Inferior Cerebellar Artery</text>
<text x="1217.5" y="1190.4" class="rb" text-anchor="start">Vertebral Artery</text>
<text x="1070.5" y="1269.1" class="rb" text-anchor="start">Anterior Spinal Artery</text>
<text x="2044.0" y="1250.0" class="rb" text-anchor="start">Posterior Inferior</text>
<text x="2042.5" y="1286.6" class="rb" text-anchor="start">Cerebellar Artery</text>
<circle cx="1790.5" cy="965.0" r="3.1" fill="#161616"/>
<text x="1798.0" y="972.7" class="rr" text-anchor="start">Locked-in syndrome</text>
<circle cx="1955.5" cy="1112.4" r="3.1" fill="#161616"/>
<text x="1962.5" y="1120.1" class="rr" text-anchor="start">Lateral pontine syndrome</text>
<circle cx="1074.5" cy="1287.3" r="3.1" fill="#161616"/>
<text x="1083.0" y="1295.0" class="rr" text-anchor="start">Medial medullary syndrome</text>
<circle cx="2050.0" cy="1305.3" r="3.1" fill="#161616"/>
<text x="2058.0" y="1313.0" class="rr" text-anchor="start">Lateral medullary (Wallenberg)</text>
<text x="2058.0" y="1342.8" class="rr" text-anchor="start">syndrome.</text>
</g>
</svg>
</body></html>
